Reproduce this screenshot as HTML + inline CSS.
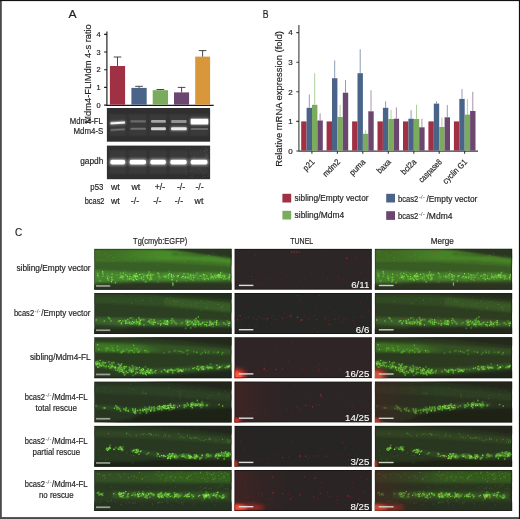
<!DOCTYPE html>
<html><head><meta charset="utf-8"><title>Figure</title>
<style>html,body{margin:0;padding:0;background:#fff}svg{display:block}text{font-family:"Liberation Sans",sans-serif;stroke:#262324;stroke-width:.18px}text.w{stroke:#fff;stroke-width:.1px}text.s{stroke:none}</style>
</head><body>
<svg width="520" height="519" viewBox="0 0 520 519" fill="#262324">
<rect width="520" height="519" fill="#fff"/>
<text x="68.5" y="18.1" font-size="11.8" textLength="8.1" lengthAdjust="spacingAndGlyphs">A</text>
<g stroke="#1a1a1a" stroke-width="1.15" fill="none">
<path d="M106.9 31.6V105.6M106.4 105.39999999999999H213.7M104.1 105.1H106.9M104.1 87.4H106.9M104.1 69.7H106.9M104.1 52.0H106.9M104.1 34.3H106.9"/>
</g>
<text x="100.6" y="107.6" font-size="7.4" text-anchor="end">0</text>
<text x="100.6" y="89.9" font-size="7.4" text-anchor="end">1</text>
<text x="100.6" y="72.2" font-size="7.4" text-anchor="end">2</text>
<text x="100.6" y="54.5" font-size="7.4" text-anchor="end">3</text>
<text x="100.6" y="36.8" font-size="7.4" text-anchor="end">4</text>
<text transform="translate(91 123.7) rotate(-90)" font-size="9.5" textLength="99.5" lengthAdjust="spacingAndGlyphs">Mdm4-FLIMdm 4-s ratio</text>
<rect x="109.9" y="66.0" width="15.2" height="38.7" fill="#a03044"/>
<path d="M117.5 66.0V57.0M113.7 57.0H121.3" stroke="#333" stroke-width="0.9" fill="none"/>
<rect x="131.4" y="87.9" width="15.3" height="16.8" fill="#4a6489"/>
<path d="M139.1 87.9V86.3M135.2 86.3H142.9" stroke="#333" stroke-width="0.9" fill="none"/>
<rect x="152.7" y="90.2" width="15.3" height="14.5" fill="#7bab5c"/>
<path d="M160.3 90.2V89.5M156.5 89.5H164.2" stroke="#333" stroke-width="0.9" fill="none"/>
<rect x="174" y="92.4" width="15.1" height="12.3" fill="#6b466f"/>
<path d="M181.6 92.4V87.4M177.8 87.4H185.4" stroke="#333" stroke-width="0.9" fill="none"/>
<rect x="195.2" y="56.6" width="14.9" height="48.1" fill="#d9973c"/>
<path d="M202.6 56.6V50.6M198.8 50.6H206.4" stroke="#333" stroke-width="0.9" fill="none"/>
<defs><filter id="gb" x="-20%" y="-100%" width="140%" height="300%"><feGaussianBlur stdDeviation="0.75"/></filter><filter id="gg" x="-20%" y="-150%" width="140%" height="400%"><feGaussianBlur stdDeviation="1.3"/></filter></defs>
<rect x="106.9" y="108" width="103.2" height="33.7" fill="#2f2f2f"/>
<rect x="106.9" y="145.6" width="103.2" height="33.6" fill="#2f2f2f"/>
<g fill="#fff">
<rect x="109.5" y="120.9" width="16.5" height="4.1" rx="1.5" opacity="0.33" filter="url(#gg)" transform="rotate(-3.5 117.8 123.0)"/>
<rect x="110.3" y="121.8" width="14.9" height="2.3" rx="1" opacity="0.95" filter="url(#gb)" transform="rotate(-3.5 117.8 123.0)"/>
<rect x="110.3" y="128.7" width="14.9" height="1.8" rx="1" opacity="0.30" filter="url(#gb)" transform="rotate(-3.5 117.8 129.6)"/>
<rect x="130.3" y="120.3" width="15.7" height="2.2" rx="1" opacity="0.25" filter="url(#gb)"/>
<rect x="130.3" y="127.8" width="15.7" height="1.9" rx="1" opacity="0.27" filter="url(#gb)"/>
<rect x="151.0" y="120.1" width="14.9" height="2.6" rx="1" opacity="0.55" filter="url(#gb)"/>
<rect x="151.0" y="127.3" width="14.9" height="2.9" rx="1" opacity="0.78" filter="url(#gb)"/>
<rect x="171.1" y="120.1" width="15.6" height="2.8" rx="1" opacity="0.45" filter="url(#gb)"/>
<rect x="170.3" y="126.4" width="17.2" height="4.7" rx="1.5" opacity="0.30" filter="url(#gg)"/>
<rect x="171.1" y="127.3" width="15.6" height="2.9" rx="1" opacity="0.85" filter="url(#gb)"/>
<rect x="189.9" y="117.9" width="19.2" height="7.4" rx="1.5" opacity="0.35" filter="url(#gg)"/>
<rect x="190.7" y="118.8" width="17.6" height="5.6" rx="1" opacity="1.00" filter="url(#gb)"/>
<rect x="190.7" y="128.1" width="17.6" height="2.0" rx="1" opacity="0.25" filter="url(#gb)"/>
<rect x="109.0" y="158.4" width="17.5" height="7.4" rx="2.5" opacity=".4" filter="url(#gg)"/>
<rect x="110.3" y="159.8" width="14.9" height="4.6" rx="2" filter="url(#gb)"/>
<rect x="109.0" y="150" width="17.5" height="24" opacity=".05" filter="url(#gg)"/>
<rect x="109.0" y="114" width="17.5" height="22" opacity=".05" filter="url(#gg)"/>
<rect x="128.3" y="158.4" width="19.0" height="7.4" rx="2.5" opacity=".4" filter="url(#gg)"/>
<rect x="129.6" y="159.8" width="16.4" height="4.6" rx="2" filter="url(#gb)"/>
<rect x="128.3" y="150" width="19.0" height="24" opacity=".05" filter="url(#gg)"/>
<rect x="128.3" y="114" width="19.0" height="22" opacity=".05" filter="url(#gg)"/>
<rect x="149.0" y="158.4" width="18.2" height="7.4" rx="2.5" opacity=".4" filter="url(#gg)"/>
<rect x="150.3" y="159.8" width="15.6" height="4.6" rx="2" filter="url(#gb)"/>
<rect x="149.0" y="150" width="18.2" height="24" opacity=".05" filter="url(#gg)"/>
<rect x="149.0" y="114" width="18.2" height="22" opacity=".05" filter="url(#gg)"/>
<rect x="169.0" y="158.4" width="19.0" height="7.4" rx="2.5" opacity=".4" filter="url(#gg)"/>
<rect x="170.3" y="159.8" width="16.4" height="4.6" rx="2" filter="url(#gb)"/>
<rect x="169.0" y="150" width="19.0" height="24" opacity=".05" filter="url(#gg)"/>
<rect x="169.0" y="114" width="19.0" height="22" opacity=".05" filter="url(#gg)"/>
<rect x="189.4" y="158.4" width="19.4" height="7.4" rx="2.5" opacity=".4" filter="url(#gg)"/>
<rect x="190.7" y="159.8" width="16.8" height="4.6" rx="2" filter="url(#gb)"/>
<rect x="189.4" y="150" width="19.4" height="24" opacity=".05" filter="url(#gg)"/>
<rect x="189.4" y="114" width="19.4" height="22" opacity=".05" filter="url(#gg)"/>
<path d="M200.6 170.2h.01M204.7 176.7h.01M203.4 176.0h.01M186.7 161.4h.01M208.2 167.3h.01M207.2 150.1h.01M197.0 154.4h.01M198.8 164.9h.01M186.3 153.4h.01M192.6 175.8h.01M204.0 151.6h.01M204.7 150.9h.01M200.5 150.6h.01M186.0 174.4h.01M190.9 153.4h.01M209.1 174.4h.01M192.8 177.3h.01M198.7 168.2h.01M190.8 176.6h.01M202.2 177.4h.01M207.0 156.1h.01M194.5 151.8h.01M189.4 148.6h.01M193.1 165.8h.01M186.1 168.2h.01M193.9 156.4h.01M205.2 161.9h.01M193.4 161.9h.01M202.6 148.3h.01M208.9 147.2h.01M203.6 173.5h.01M186.4 171.7h.01M194.6 165.0h.01M186.2 148.0h.01M190.3 177.1h.01M190.6 170.7h.01M207.8 176.6h.01M194.1 157.9h.01M207.4 154.8h.01M205.5 154.5h.01M208.6 155.6h.01M205.2 156.5h.01M205.4 150.4h.01M207.7 156.2h.01M206.5 156.2h.01M207.5 150.1h.01M206.4 148.8h.01M205.4 148.5h.01M208.1 157.0h.01M205.7 147.5h.01M209.4 152.3h.01M206.8 149.4h.01" stroke="#fff" stroke-width=".8" stroke-linecap="round" opacity=".15" fill="none"/>
</g>
<text x="102.9" y="123.9" font-size="8.6" text-anchor="end" textLength="33.2" lengthAdjust="spacingAndGlyphs">Mdm4-FL</text>
<text x="103.4" y="134.0" font-size="8.6" text-anchor="end" textLength="29.9" lengthAdjust="spacingAndGlyphs">Mdm4-S</text>
<text x="103.4" y="164.3" font-size="8.6" text-anchor="end" textLength="23.2" lengthAdjust="spacingAndGlyphs">gapdh</text>
<text x="103.3" y="189.5" font-size="8.6" text-anchor="end" textLength="13" lengthAdjust="spacingAndGlyphs">p53</text>
<text x="104.5" y="203.6" font-size="8.6" text-anchor="end" textLength="19.8" lengthAdjust="spacingAndGlyphs">bcas2</text>
<text x="111" y="189.5" font-size="8.6" textLength="8.8" lengthAdjust="spacingAndGlyphs">wt</text>
<text x="131.4" y="189.5" font-size="8.6" textLength="8.8" lengthAdjust="spacingAndGlyphs">wt</text>
<text x="154.8" y="189.5" font-size="8.6" textLength="10.4" lengthAdjust="spacingAndGlyphs">+/-</text>
<text x="176.9" y="189.5" font-size="8.6" textLength="8.3" lengthAdjust="spacingAndGlyphs">-/-</text>
<text x="195.4" y="189.5" font-size="8.6" textLength="8.3" lengthAdjust="spacingAndGlyphs">-/-</text>
<text x="111" y="203.6" font-size="8.6" textLength="8.8" lengthAdjust="spacingAndGlyphs">wt</text>
<text x="130.8" y="203.6" font-size="8.6" textLength="8.3" lengthAdjust="spacingAndGlyphs">-/-</text>
<text x="153.2" y="203.6" font-size="8.6" textLength="8.3" lengthAdjust="spacingAndGlyphs">-/-</text>
<text x="174.8" y="203.6" font-size="8.6" textLength="8.3" lengthAdjust="spacingAndGlyphs">-/-</text>
<text x="194.6" y="203.6" font-size="8.6" textLength="8.8" lengthAdjust="spacingAndGlyphs">wt</text>
<text x="262.7" y="17.8" font-size="11" textLength="5.8" lengthAdjust="spacingAndGlyphs">B</text>
<path d="M298.9 25V151.6M298.3 151.1H478M296.3 151.0H298.9M296.3 121.4H298.9M296.3 91.8H298.9M296.3 62.2H298.9M296.3 32.6H298.9M311.9 151.0V153.8M337.4 151.0V153.8M362.8 151.0V153.8M388.3 151.0V153.8M413.8 151.0V153.8M439.2 151.0V153.8M464.6 151.0V153.8" stroke="#3a3a3a" stroke-width="1.1" fill="none"/>
<text x="292.8" y="153.8" font-size="8" text-anchor="end">0</text>
<text x="292.8" y="124.2" font-size="8" text-anchor="end">1</text>
<text x="292.8" y="94.6" font-size="8" text-anchor="end">2</text>
<text x="292.8" y="65.0" font-size="8" text-anchor="end">3</text>
<text x="292.8" y="35.4" font-size="8" text-anchor="end">4</text>
<text transform="translate(281.8 166.8) rotate(-90)" font-size="9.5" textLength="135.8" lengthAdjust="spacingAndGlyphs">Relative mRNA expression (fold)</text>
<rect x="301.2" y="121.4" width="5.4" height="29.2" fill="#a03044"/>
<rect x="306.6" y="107.8" width="5.4" height="42.8" fill="#4a6489"/>
<path d="M309.3 107.8V94.5" stroke="#7f93b0" stroke-width="0.9"/>
<rect x="312.0" y="104.8" width="5.4" height="45.8" fill="#7bab5c"/>
<path d="M314.7 104.8V73.2" stroke="#a5c98f" stroke-width="0.9"/>
<rect x="317.4" y="120.5" width="5.4" height="30.1" fill="#6b466f"/>
<path d="M320.1 120.5V113.4" stroke="#a283a5" stroke-width="0.9"/>
<text transform="translate(315.1 162.6) rotate(-45)" font-size="8.5" text-anchor="end" textLength="12.5" lengthAdjust="spacingAndGlyphs">p21</text>
<rect x="326.6" y="121.4" width="5.4" height="29.2" fill="#a03044"/>
<rect x="332.0" y="78.2" width="5.4" height="72.4" fill="#4a6489"/>
<path d="M334.7 78.2V60.4" stroke="#7f93b0" stroke-width="0.9"/>
<rect x="337.4" y="117.0" width="5.4" height="33.6" fill="#7bab5c"/>
<path d="M340.1 117.0V104.8" stroke="#a5c98f" stroke-width="0.9"/>
<rect x="342.8" y="92.7" width="5.4" height="57.9" fill="#6b466f"/>
<path d="M345.5 92.7V80.0" stroke="#a283a5" stroke-width="0.9"/>
<text transform="translate(340.6 162.6) rotate(-45)" font-size="8.5" text-anchor="end" textLength="20.8" lengthAdjust="spacingAndGlyphs">mdm2</text>
<rect x="352.1" y="121.4" width="5.4" height="29.2" fill="#a03044"/>
<rect x="357.5" y="73.2" width="5.4" height="77.4" fill="#4a6489"/>
<path d="M360.2 73.2V49.2" stroke="#7f93b0" stroke-width="0.9"/>
<rect x="362.9" y="133.8" width="5.4" height="16.8" fill="#7bab5c"/>
<path d="M365.6 133.8V130.3" stroke="#a5c98f" stroke-width="0.9"/>
<rect x="368.3" y="111.3" width="5.4" height="39.3" fill="#6b466f"/>
<path d="M371.0 111.3V90.3" stroke="#a283a5" stroke-width="0.9"/>
<text transform="translate(366.0 162.6) rotate(-45)" font-size="8.5" text-anchor="end" textLength="18.8" lengthAdjust="spacingAndGlyphs">puma</text>
<rect x="377.5" y="121.4" width="5.4" height="29.2" fill="#a03044"/>
<rect x="382.9" y="107.8" width="5.4" height="42.8" fill="#4a6489"/>
<path d="M385.6 107.8V101.3" stroke="#7f93b0" stroke-width="0.9"/>
<rect x="388.3" y="119.0" width="5.4" height="31.6" fill="#7bab5c"/>
<path d="M391.0 119.0V109.9" stroke="#a5c98f" stroke-width="0.9"/>
<rect x="393.7" y="118.7" width="5.4" height="31.9" fill="#6b466f"/>
<path d="M396.4 118.7V107.5" stroke="#a283a5" stroke-width="0.9"/>
<text transform="translate(391.5 162.6) rotate(-45)" font-size="8.5" text-anchor="end" textLength="16.3" lengthAdjust="spacingAndGlyphs">baxa</text>
<rect x="403.0" y="121.4" width="5.4" height="29.2" fill="#a03044"/>
<rect x="408.4" y="118.7" width="5.4" height="31.9" fill="#4a6489"/>
<path d="M411.1 118.7V110.2" stroke="#7f93b0" stroke-width="0.9"/>
<rect x="413.8" y="119.0" width="5.4" height="31.6" fill="#7bab5c"/>
<path d="M416.5 119.0V104.8" stroke="#a5c98f" stroke-width="0.9"/>
<rect x="419.2" y="127.3" width="5.4" height="23.3" fill="#6b466f"/>
<path d="M421.9 127.3V118.7" stroke="#a283a5" stroke-width="0.9"/>
<text transform="translate(416.9 162.6) rotate(-45)" font-size="8.5" text-anchor="end" textLength="17.9" lengthAdjust="spacingAndGlyphs">bcl2a</text>
<rect x="428.4" y="121.4" width="5.4" height="29.2" fill="#a03044"/>
<rect x="433.8" y="103.6" width="5.4" height="47.0" fill="#4a6489"/>
<path d="M436.5 103.6V101.3" stroke="#7f93b0" stroke-width="0.9"/>
<rect x="439.2" y="127.0" width="5.4" height="23.6" fill="#7bab5c"/>
<path d="M441.9 127.0V117.6" stroke="#a5c98f" stroke-width="0.9"/>
<rect x="444.6" y="117.3" width="5.4" height="33.3" fill="#6b466f"/>
<path d="M447.3 117.3V105.1" stroke="#a283a5" stroke-width="0.9"/>
<text transform="translate(442.4 162.6) rotate(-45)" font-size="8.5" text-anchor="end" textLength="28.9" lengthAdjust="spacingAndGlyphs">caspase8</text>
<rect x="453.9" y="121.4" width="5.4" height="29.2" fill="#a03044"/>
<rect x="459.3" y="98.9" width="5.4" height="51.7" fill="#4a6489"/>
<path d="M462.0 98.9V89.1" stroke="#7f93b0" stroke-width="0.9"/>
<rect x="464.7" y="114.6" width="5.4" height="36.0" fill="#7bab5c"/>
<path d="M467.4 114.6V98.9" stroke="#a5c98f" stroke-width="0.9"/>
<rect x="470.1" y="111.0" width="5.4" height="39.6" fill="#6b466f"/>
<path d="M472.8 111.0V91.8" stroke="#a283a5" stroke-width="0.9"/>
<text transform="translate(467.8 162.6) rotate(-45)" font-size="8.5" text-anchor="end" textLength="30.8" lengthAdjust="spacingAndGlyphs">cyclin G1</text>
<rect x="282.4" y="193.8" width="8.8" height="8.7" fill="#a03044"/>
<rect x="282.4" y="210.8" width="8.8" height="8.7" fill="#7bab5c"/>
<rect x="386.2" y="193.8" width="8.8" height="8.7" fill="#4a6489"/>
<rect x="386.2" y="211.2" width="8.8" height="8.7" fill="#6b466f"/>
<text x="294.6" y="200.6" font-size="8.6" textLength="73.9" lengthAdjust="spacingAndGlyphs">sibling/Empty vector</text>
<text x="294.6" y="217.6" font-size="8.6" textLength="49.6" lengthAdjust="spacingAndGlyphs">sibling/Mdm4</text>
<text x="398" y="202.1" font-size="8.6" textLength="20.2" lengthAdjust="spacingAndGlyphs">bcas2</text>
<text x="418.7" y="198.9" font-size="4.5" textLength="6.2" lengthAdjust="spacingAndGlyphs" fill="#555" class="s">-/-</text>
<text x="426.5" y="202.1" font-size="8.6" textLength="50.9" lengthAdjust="spacingAndGlyphs">/Empty vector</text>
<text x="398" y="218.9" font-size="8.6" textLength="20.2" lengthAdjust="spacingAndGlyphs">bcas2</text>
<text x="418.7" y="215.70000000000002" font-size="4.5" textLength="6.2" lengthAdjust="spacingAndGlyphs" fill="#555" class="s">-/-</text>
<text x="426.5" y="218.9" font-size="8.6" textLength="25.9" lengthAdjust="spacingAndGlyphs">/Mdm4</text>
<text x="15" y="235.8" font-size="11.5" textLength="7.2" lengthAdjust="spacingAndGlyphs">C</text>
<text x="133.1" y="243.8" font-size="8.6" textLength="54.2" lengthAdjust="spacingAndGlyphs">Tg(cmyb:EGFP)</text>
<text x="290.2" y="244" font-size="8.6" textLength="23.1" lengthAdjust="spacingAndGlyphs">TUNEL</text>
<text x="430.8" y="244" font-size="8.6" textLength="23" lengthAdjust="spacingAndGlyphs">Merge</text>
<text x="16.4" y="270.5" font-size="8.6" textLength="74.2" lengthAdjust="spacingAndGlyphs">sibling/Empty vector</text>
<text x="13.9" y="315.8" font-size="8.6" textLength="20.2" lengthAdjust="spacingAndGlyphs">bcas2</text>
<text x="34.6" y="312.6" font-size="4.5" textLength="6.2" lengthAdjust="spacingAndGlyphs" fill="#555" class="s">-/-</text>
<text x="41.2" y="315.8" font-size="8.6" textLength="49.2" lengthAdjust="spacingAndGlyphs">/Empty vector</text>
<text x="29.9" y="359.5" font-size="8.6" textLength="60.7" lengthAdjust="spacingAndGlyphs">sibling/Mdm4-FL</text>
<text x="24.7" y="400" font-size="8.6" textLength="20.2" lengthAdjust="spacingAndGlyphs">bcas2</text>
<text x="45.4" y="396.8" font-size="4.5" textLength="6.2" lengthAdjust="spacingAndGlyphs" fill="#555" class="s">-/-</text>
<text x="52.0" y="400" font-size="8.6" textLength="35.7" lengthAdjust="spacingAndGlyphs">/Mdm4-FL</text>
<text x="56.3" y="410.6" font-size="8.6" text-anchor="middle" textLength="41.5" lengthAdjust="spacingAndGlyphs">total rescue</text>
<text x="24.7" y="444" font-size="8.6" textLength="20.2" lengthAdjust="spacingAndGlyphs">bcas2</text>
<text x="45.4" y="440.8" font-size="4.5" textLength="6.2" lengthAdjust="spacingAndGlyphs" fill="#555" class="s">-/-</text>
<text x="52.0" y="444" font-size="8.6" textLength="35.7" lengthAdjust="spacingAndGlyphs">/Mdm4-FL</text>
<text x="56.3" y="454.6" font-size="8.6" text-anchor="middle" textLength="47.6" lengthAdjust="spacingAndGlyphs">partial rescue</text>
<text x="24.7" y="487.4" font-size="8.6" textLength="20.2" lengthAdjust="spacingAndGlyphs">bcas2</text>
<text x="45.4" y="484.2" font-size="4.5" textLength="6.2" lengthAdjust="spacingAndGlyphs" fill="#555" class="s">-/-</text>
<text x="52.0" y="487.4" font-size="8.6" textLength="35.7" lengthAdjust="spacingAndGlyphs">/Mdm4-FL</text>
<text x="56.3" y="498.0" font-size="8.6" text-anchor="middle" textLength="34.7" lengthAdjust="spacingAndGlyphs">no rescue</text>
<defs>
<filter id="b1" x="-10%" y="-30%" width="120%" height="160%"><feGaussianBlur stdDeviation="1.1"/></filter>
<filter id="b2" x="-20%" y="-50%" width="140%" height="200%"><feGaussianBlur stdDeviation="2"/></filter>
<filter id="b0" x="-5%" y="-10%" width="110%" height="120%"><feGaussianBlur stdDeviation="0.65"/></filter>
<linearGradient id="hg1"><stop offset="0" stop-color="#498d2b" stop-opacity="0"/><stop offset=".4" stop-color="#498d2b"/><stop offset="1" stop-color="#498d2b"/></linearGradient>
<linearGradient id="hg6"><stop offset="0" stop-color="#36641f" stop-opacity="0"/><stop offset=".4" stop-color="#36641f"/><stop offset="1" stop-color="#36641f"/></linearGradient>
<linearGradient id="hg3"><stop offset="0" stop-color="#3f7a26"/><stop offset=".6" stop-color="#3f7a26"/><stop offset="1" stop-color="#3f7a26" stop-opacity="0"/></linearGradient>
<linearGradient id="rg"><stop offset="0" stop-color="#472424" stop-opacity=".75"/><stop offset="1" stop-color="#352424" stop-opacity="0"/></linearGradient>
<clipPath id="pc"><rect width="137.4" height="41.0"/></clipPath>
<g id="G0" clip-path="url(#pc)">
<rect width="137.4" height="41.0" fill="#386026"/>
<path d="M0 1L70 1L137.6 6L137.6 17L70 13.5L0 12.5Z" fill="#3f6e28" filter="url(#b1)"/>
<path d="M15 1L100 2L137.6 8L137.6 15L100 12L15 11Z" fill="url(#hg1)" opacity="0.9" filter="url(#b1)"/>
<path d="M66 -1L139 -1L139 10L100 4.5Z" fill="#293820" filter="url(#b1)"/>
<path d="M78 5L112 7.5" fill="none" stroke="#293820" stroke-width="1.2" opacity="0.6" filter="url(#b1)"/>
<path d="M0 11.7L60 12.3L137.6 16.5" fill="none" stroke="#4f8934" stroke-width="1.2" opacity="0.55" filter="url(#b1)"/>
<path d="M0 21L6 21.3L12 21.7L18 22L24 22.3L30 22.6L36 23L42 23.2L48 23.3L54 23.3L60 23.4L66 23.5L72 23.5L78 23.6L84 23.6L90 23.7L96 23.7L102 23.7L108 23.6L114 23.6L120 23.6L126 23.7L132 24.5L137.6 25.3L137.6 30.3L132 31.1L126 32.1L120 32.3L114 32.4L108 32.4L102 32.5L96 32.6L90 32.7L84 32.7L78 32.7L72 32.7L66 32.8L60 32.8L54 32.8L48 32.8L42 32.8L36 32.9L30 33.1L24 33.3L18 33.5L12 33.6L6 33.8L0 34Z" fill="#498431" opacity="0.95" filter="url(#b1)"/>
<path d="M-2 36L40 34L139 33.8L139 43L-2 43Z" fill="#2a3523" filter="url(#b1)"/>
<g fill="none" stroke-linecap="round" filter="url(#b0)">
<path d="M62.3 9.7h.01M80.6 6.3h.01M86.3 10.2h.01M110.7 11.3h.01M89.6 8.7h.01M9.1 6.5h.01M5.1 1.1h.01M87.8 10.3h.01M96.9 8.9h.01M115.8 7.6h.01M124.3 13.8h.01M86.3 7.9h.01M12.8 10.8h.01M34.4 5.4h.01M109.0 7.0h.01M100.2 8.1h.01M29.6 8.9h.01M135.1 8.6h.01M105.7 9.3h.01M80.0 8.8h.01M51.4 9.8h.01M118.4 9.8h.01M34.8 6.1h.01M82.8 1.3h.01M33.3 6.2h.01M10.3 1.0h.01M28.6 4.4h.01M61.4 8.1h.01M133.9 10.4h.01M3.9 1.5h.01M136.4 12.4h.01M100.9 11.0h.01M118.0 8.6h.01M83.5 6.1h.01M99.7 8.8h.01M5.0 4.1h.01M35.7 5.2h.01M53.1 9.6h.01M129.7 6.8h.01M62.1 7.5h.01M6.6 6.4h.01M42.9 8.1h.01M33.2 6.7h.01M130.9 8.5h.01M25.3 6.6h.01M95.5 5.3h.01M98.9 6.0h.01M63.8 3.5h.01M117.0 13.1h.01M105.1 11.1h.01M110.6 10.5h.01M107.8 8.2h.01M12.7 2.6h.01M76.9 4.9h.01M132.2 9.9h.01M69.2 6.2h.01M132.4 7.5h.01M67.5 9.9h.01M74.0 13.4h.01M65.1 5.2h.01M18.5 9.9h.01M27.3 5.4h.01M17.6 6.2h.01M60.2 8.7h.01M72.7 8.3h.01M123.3 8.4h.01M18.1 3.7h.01M69.1 7.4h.01M6.1 7.1h.01M63.6 5.5h.01M59.3 9.6h.01M25.6 6.2h.01M23.4 3.5h.01M104.7 9.4h.01M64.5 5.9h.01M87.5 9.1h.01M46.8 13.4h.01M35.8 8.3h.01M22.7 7.9h.01M58.0 9.7h.01" stroke="#447f2a" stroke-width="1.4" opacity="0.3"/>
<path d="M63.0 16.1h.01M40.2 6.9h.01M16.8 6.8h.01M109.9 12.1h.01M40.8 11.8h.01M18.8 8.7h.01M5.8 2.6h.01M119.0 4.6h.01M114.6 6.6h.01M68.4 7.2h.01M90.4 12.5h.01M45.3 7.6h.01M19.5 9.1h.01M67.9 9.8h.01M134.1 12.4h.01M86.3 5.4h.01M65.4 10.1h.01M52.1 10.4h.01M87.9 9.7h.01M133.4 17.5h.01M71.0 9.4h.01M40.3 4.4h.01M65.6 8.3h.01M85.0 5.8h.01M32.5 10.3h.01M19.1 12.1h.01M36.2 8.0h.01M3.4 3.5h.01M16.6 0.6h.01M78.1 8.4h.01M13.9 7.9h.01M86.3 5.5h.01M110.1 8.0h.01M101.9 10.5h.01M120.2 8.1h.01M73.2 11.3h.01M4.1 6.1h.01M14.3 6.8h.01M75.5 11.0h.01M11.3 5.4h.01" stroke="#58a832" stroke-width="1.2" opacity="0.4"/>
<path d="M50.5 26.6h.01M41.1 25.9h.01M98.6 27.0h.01M103.1 26.0h.01M125.1 28.5h.01M125.2 29.6h.01M126.0 27.5h.01M124.2 27.7h.01M110.0 25.1h.01M109.1 27.3h.01M70.8 29.9h.01M70.7 26.8h.01M73.8 26.2h.01M72.1 24.6h.01M31.3 29.5h.01M33.9 30.3h.01M33.7 24.6h.01M112.4 27.7h.01M113.8 24.7h.01M29.8 26.1h.01M29.0 28.0h.01M97.5 30.1h.01M97.9 28.9h.01M48.8 30.8h.01M134.7 27.2h.01M86.0 24.8h.01M82.8 28.0h.01M130.0 28.0h.01M129.8 26.3h.01M103.3 26.1h.01M31.1 23.4h.01M17.8 30.0h.01M111.5 26.6h.01M65.0 30.2h.01M95.0 27.2h.01M120.8 25.4h.01M122.5 30.6h.01M78.6 28.6h.01M74.6 28.2h.01M75.3 26.5h.01M13.0 25.3h.01M13.1 27.6h.01M20.2 27.0h.01M100.5 28.3h.01M63.8 26.8h.01M23.2 28.4h.01M118.2 29.0h.01M40.0 29.6h.01M41.1 27.4h.01M41.2 27.2h.01M130.4 27.3h.01M14.1 26.6h.01M56.7 26.9h.01M120.2 28.3h.01M43.1 29.4h.01M51.1 28.0h.01M49.6 29.1h.01M50.9 30.5h.01M54.2 28.0h.01M52.6 27.4h.01M51.8 32.9h.01M135.0 27.6h.01M17.5 29.3h.01M75.0 22.9h.01M77.1 28.5h.01M38.1 26.0h.01M38.3 29.4h.01M37.6 28.7h.01M90.0 26.5h.01M91.0 25.7h.01M90.9 27.6h.01M110.4 31.7h.01M28.7 29.0h.01M31.3 23.6h.01M52.2 32.6h.01M1.7 29.5h.01M108.0 27.3h.01M11.0 28.4h.01M109.0 27.5h.01M109.4 28.5h.01M108.9 25.3h.01M29.4 27.0h.01M47.9 29.2h.01M39.5 25.3h.01M91.7 31.7h.01M16.1 26.7h.01M18.7 25.8h.01M22.2 31.6h.01M20.8 28.3h.01M44.1 29.6h.01M44.8 28.0h.01M41.7 30.6h.01M39.7 27.7h.01M124.4 30.3h.01M91.3 28.9h.01M91.7 24.9h.01M63.9 27.2h.01M75.7 27.7h.01M104.6 30.6h.01M40.4 28.4h.01M40.4 29.1h.01M40.2 30.4h.01M125.6 27.2h.01M126.6 27.3h.01M77.7 30.3h.01M77.5 30.7h.01M70.5 27.8h.01M77.1 29.2h.01M127.5 23.8h.01M127.1 28.2h.01M57.0 27.2h.01M27.1 29.9h.01M69.3 26.9h.01M64.0 33.0h.01M55.3 26.2h.01M55.2 26.7h.01M68.6 26.9h.01M42.9 26.9h.01M40.9 28.3h.01M129.9 26.2h.01M109.6 28.6h.01M129.1 29.9h.01M121.4 28.3h.01M100.7 26.6h.01M117.1 27.9h.01M69.9 25.0h.01M97.5 28.1h.01M75.9 27.2h.01M129.5 29.4h.01" stroke="#4a8f2c" stroke-width="2.3" opacity="0.6"/>
<path d="M39.0 28.8h.01M98.9 31.3h.01M33.3 30.9h.01M32.0 26.8h.01M126.1 25.7h.01M125.6 27.7h.01M135.0 30.8h.01M34.6 29.9h.01M33.7 29.2h.01M39.1 27.5h.01M109.4 28.6h.01M71.7 27.0h.01M73.4 27.6h.01M72.0 28.8h.01M33.2 27.7h.01M33.3 29.5h.01M29.2 30.4h.01M89.6 29.4h.01M28.0 27.4h.01M57.2 27.8h.01M83.5 28.3h.01M83.1 27.5h.01M36.7 29.7h.01M6.1 32.3h.01M116.9 26.2h.01M102.9 24.4h.01M103.8 29.4h.01M91.2 28.9h.01M122.5 28.7h.01M121.6 29.1h.01M97.6 26.8h.01M96.7 26.5h.01M122.4 26.8h.01M123.7 27.7h.01M26.3 28.5h.01M26.2 24.6h.01M107.1 27.2h.01M108.2 29.9h.01M107.0 27.1h.01M33.7 29.8h.01M83.8 27.5h.01M8.9 25.6h.01M37.4 30.7h.01M40.0 27.3h.01M13.2 26.9h.01M13.4 27.4h.01M95.9 30.1h.01M97.0 28.8h.01M64.5 28.1h.01M78.0 31.1h.01M42.0 27.5h.01M22.6 26.4h.01M8.2 27.8h.01M56.1 30.1h.01M57.8 26.2h.01M17.3 31.0h.01M15.4 28.4h.01M77.2 30.8h.01M4.2 28.0h.01M110.9 29.7h.01M110.3 26.9h.01M25.0 29.2h.01M25.9 26.1h.01M121.3 26.6h.01M119.0 28.2h.01M5.4 31.7h.01M116.9 26.1h.01M27.7 27.5h.01M49.4 27.1h.01M49.8 26.2h.01M40.8 27.3h.01M40.0 28.0h.01M116.2 29.7h.01M116.6 27.5h.01M64.6 25.3h.01M4.3 28.2h.01M18.6 30.7h.01M43.5 27.9h.01M42.6 26.7h.01M43.6 30.3h.01M42.2 25.2h.01M45.5 29.5h.01M43.6 30.7h.01M125.2 26.3h.01M65.0 27.3h.01M28.4 29.0h.01M35.6 25.7h.01M116.8 25.3h.01M71.6 27.8h.01M57.5 30.0h.01M124.8 28.1h.01M94.3 28.1h.01M56.2 29.5h.01M56.4 26.6h.01M56.4 30.9h.01M56.7 25.2h.01M56.8 26.6h.01M51.2 33.1h.01M48.2 25.3h.01M2.9 24.7h.01M28.2 29.9h.01M132.8 29.7h.01M68.8 27.9h.01M57.5 29.7h.01M120.5 27.3h.01M40.1 27.8h.01M41.6 29.7h.01M42.7 30.6h.01M109.1 29.7h.01M129.2 26.8h.01M4.1 25.1h.01M119.4 30.2h.01M118.9 28.4h.01M131.4 30.0h.01M65.1 28.1h.01M65.9 28.7h.01M129.6 28.1h.01M130.9 26.8h.01M8.7 27.5h.01M96.7 27.4h.01M120.9 26.3h.01M101.8 26.5h.01M100.4 28.5h.01M116.5 29.2h.01M96.9 30.3h.01M95.9 28.6h.01M54.4 26.9h.01M45.5 26.2h.01M122.1 27.2h.01" stroke="#58ad32" stroke-width="1.9" opacity="0.85"/>
<path d="M17.8 28.2h.01M17.7 31.2h.01M125.6 26.4h.01M127.2 28.7h.01M126.2 26.2h.01M125.6 28.9h.01M124.8 26.3h.01M74.2 27.1h.01M74.2 25.7h.01M70.8 28.4h.01M31.4 25.9h.01M135.6 26.9h.01M114.3 30.2h.01M27.9 28.6h.01M99.1 26.6h.01M99.4 28.7h.01M58.9 26.1h.01M82.5 32.2h.01M83.2 27.4h.01M128.3 27.0h.01M8.5 24.4h.01M123.5 27.4h.01M121.5 28.7h.01M122.9 27.1h.01M93.7 29.2h.01M93.5 28.3h.01M79.2 26.8h.01M14.0 31.3h.01M63.7 24.5h.01M117.9 27.5h.01M41.3 27.0h.01M40.5 26.4h.01M41.0 29.2h.01M13.4 29.8h.01M77.7 28.6h.01M74.4 29.4h.01M52.0 26.9h.01M54.2 25.4h.01M37.6 29.4h.01M91.3 28.7h.01M89.0 27.6h.01M29.6 27.5h.01M120.2 27.3h.01M110.4 26.1h.01M27.8 27.3h.01M49.4 31.0h.01M39.6 27.1h.01M135.5 25.9h.01M135.0 28.5h.01M35.3 30.6h.01M17.3 28.7h.01M56.1 27.2h.01M57.0 30.1h.01M21.2 34.1h.01M39.5 31.6h.01M79.6 28.0h.01M125.2 26.2h.01M63.7 24.2h.01M53.6 29.6h.01M53.0 28.2h.01M35.8 29.6h.01M124.3 26.7h.01M124.3 28.2h.01M105.8 27.4h.01M40.4 27.4h.01M78.1 30.9h.01M56.3 29.3h.01M49.3 28.4h.01M127.2 28.7h.01M27.1 27.3h.01M28.3 28.8h.01M93.8 25.4h.01M43.1 27.2h.01M43.0 27.3h.01M118.8 28.9h.01M117.1 28.9h.01M130.1 27.6h.01M8.4 22.9h.01M55.4 31.0h.01M54.9 23.4h.01M47.3 30.1h.01M130.2 28.4h.01M129.6 30.2h.01" stroke="#6fd03c" stroke-width="1.5"/>
<path d="M42.2 30.8h.01M125.8 27.4h.01M53.2 26.5h.01M33.2 27.6h.01M35.7 27.7h.01M112.8 29.6h.01M84.3 26.9h.01M77.0 27.8h.01M123.7 26.2h.01M17.8 25.4h.01M112.7 27.3h.01M13.0 29.1h.01M39.7 27.4h.01M41.9 24.7h.01M42.8 27.7h.01M75.3 24.9h.01M91.1 28.2h.01M89.7 25.0h.01M135.1 28.4h.01M134.6 29.1h.01M109.1 25.9h.01M29.0 24.5h.01M17.2 33.0h.01M45.6 25.7h.01M39.0 31.0h.01M87.5 28.9h.01M126.4 24.2h.01M110.5 30.8h.01M55.8 26.2h.01M3.4 26.7h.01M26.7 28.7h.01M70.5 27.4h.01M41.3 28.0h.01M88.3 27.8h.01M96.1 26.2h.01M47.4 28.4h.01M77.1 25.7h.01M77.3 26.5h.01M124.2 25.9h.01" stroke="#92f252" stroke-width="1.2"/>
<path d="M78.6 34.6h.01M78.7 36.4h.01" stroke="#8bf04e" stroke-width="1.5"/>
</g>
<path d="M0 .4H137.4M136.9 0V41.0M.3 0V41.0M0 40.6H137.4" stroke="#10160c" stroke-width=".9" opacity=".55" fill="none"/>
</g>
<g id="G1" clip-path="url(#pc)">
<rect width="137.4" height="41.0" fill="#2c3f22"/>
<path d="M0 3L60 3L137.6 9L137.6 20L60 13L0 10Z" fill="#334f27" opacity="0.9" filter="url(#b1)"/>
<path d="M70 5L137.6 10.5L137.6 19L70 12Z" fill="#3d612b" opacity="0.7" filter="url(#b1)"/>
<path d="M40 -1L139 -1L139 7L90 2.5Z" fill="#242d1e" filter="url(#b1)"/>
<path d="M0 24L6 24.2L12 24.3L18 24.5L24 24.6L30 24.8L36 24.9L42 25L48 25.1L54 25.2L60 25.3L66 25.4L72 25.5L78 25.6L84 25.8L90 26L96 26.1L102 26.4L108 26.7L114 27L120 27.3L126 27.6L132 27.9L137.6 28.2L137.6 33.8L132 33.9L126 34L120 34L114 34.1L108 34.2L102 34.2L96 34.2L90 34L84 33.9L78 33.8L72 33.6L66 33.5L60 33.5L54 33.4L48 33.4L42 33.3L36 33.3L30 33.2L24 32.8L18 32.3L12 31.9L6 31.4L0 31Z" fill="#3f6830" opacity="0.85" filter="url(#b1)"/>
<path d="M-2 36L30 35.5L36 34L139 34.5L139 43L-2 43Z" fill="#232a1e" filter="url(#b1)"/>
<g fill="none" stroke-linecap="round" filter="url(#b0)">
<path d="M130.8 22.0h.01M96.9 12.7h.01M105.9 9.0h.01M95.6 9.9h.01M106.8 17.2h.01M91.4 12.7h.01M126.3 13.9h.01M125.2 10.7h.01M81.7 11.2h.01M92.2 16.8h.01M126.9 17.3h.01M55.3 8.2h.01M48.3 6.1h.01M26.9 2.8h.01M113.2 10.9h.01M88.2 10.5h.01M128.7 8.9h.01M87.0 11.2h.01M116.0 12.9h.01M102.7 13.5h.01M34.7 6.9h.01M88.5 10.5h.01M134.5 13.8h.01M122.0 9.6h.01M111.8 15.2h.01M104.2 10.1h.01M132.4 12.2h.01M118.2 8.2h.01M112.8 13.1h.01M128.1 13.8h.01M128.6 16.7h.01M44.5 4.5h.01M41.4 6.5h.01M46.0 8.0h.01M57.2 7.8h.01M120.0 10.5h.01M70.7 9.2h.01M112.1 7.4h.01M80.0 9.3h.01M110.5 10.3h.01M12.1 8.5h.01M106.5 7.8h.01M80.3 9.4h.01M76.5 4.0h.01M107.0 7.7h.01M82.6 8.4h.01M97.7 11.0h.01M36.4 2.9h.01M128.5 14.7h.01M65.6 9.9h.01M95.5 11.6h.01M7.8 11.1h.01M126.2 14.9h.01M56.2 5.3h.01M123.7 15.3h.01M125.6 12.6h.01" stroke="#447f2a" stroke-width="1.4" opacity="0.3"/>
<path d="M127.3 14.4h.01M115.7 8.9h.01M101.8 10.3h.01M37.4 10.2h.01M48.7 7.4h.01M100.6 12.5h.01M82.8 8.5h.01M73.4 5.6h.01M87.8 13.5h.01M129.5 12.6h.01M19.8 8.3h.01M112.5 14.7h.01M79.7 7.7h.01M123.6 11.4h.01" stroke="#58a832" stroke-width="1.2" opacity="0.4"/>
<path d="M118.6 30.9h.01M110.2 29.3h.01M71.6 30.8h.01M32.8 30.2h.01M93.9 30.2h.01M69.8 31.1h.01M44.8 32.1h.01M55.9 28.1h.01M56.1 30.5h.01M59.2 31.5h.01M101.1 33.4h.01M100.7 29.2h.01M101.3 27.5h.01M101.3 29.1h.01M96.5 34.9h.01M91.5 35.3h.01M53.6 28.8h.01M39.0 26.8h.01M73.4 28.7h.01M72.2 30.0h.01M39.3 30.0h.01M61.0 28.5h.01M30.8 27.3h.01M34.5 28.9h.01M33.8 27.9h.01M35.2 30.4h.01M34.5 28.5h.01M37.8 24.8h.01M133.9 29.2h.01M134.4 30.6h.01M70.7 28.0h.01M106.6 32.5h.01M86.5 30.6h.01M77.9 29.5h.01M24.8 28.7h.01M59.0 29.0h.01M27.3 29.7h.01M63.6 28.6h.01M102.5 28.9h.01M134.1 31.3h.01M70.3 27.4h.01M68.0 29.9h.01M56.3 26.8h.01M56.3 30.0h.01M46.0 27.2h.01M48.5 26.5h.01M115.8 31.7h.01M115.6 28.0h.01M111.4 32.3h.01M112.3 32.4h.01M58.0 29.5h.01M58.6 28.1h.01M58.4 29.9h.01M55.5 26.1h.01M81.0 29.1h.01M80.6 30.2h.01M82.2 30.3h.01M44.5 29.0h.01M44.4 29.5h.01M94.3 30.6h.01M119.0 33.4h.01M116.6 32.5h.01M41.9 30.1h.01M40.0 30.6h.01M65.0 30.4h.01M42.7 28.3h.01M124.7 31.6h.01M123.9 31.3h.01M122.0 31.4h.01M129.4 30.4h.01M132.9 27.8h.01M133.9 29.6h.01M58.6 31.5h.01" stroke="#4a8f2c" stroke-width="2.3" opacity="0.6"/>
<path d="M72.2 28.7h.01M72.5 30.2h.01M71.4 30.7h.01M31.8 30.1h.01M93.8 28.2h.01M95.0 28.9h.01M70.2 27.9h.01M14.3 24.8h.01M45.1 31.4h.01M44.6 24.8h.01M104.9 30.5h.01M101.8 25.5h.01M100.9 27.7h.01M103.9 29.8h.01M59.9 28.3h.01M100.9 30.1h.01M100.0 27.3h.01M101.6 29.6h.01M103.4 27.6h.01M103.1 28.7h.01M80.1 28.7h.01M46.3 31.1h.01M45.3 26.5h.01M101.1 29.1h.01M97.5 29.2h.01M97.8 29.9h.01M72.7 27.9h.01M71.8 30.2h.01M73.2 28.0h.01M70.2 28.3h.01M69.7 30.1h.01M122.5 29.8h.01M36.7 29.1h.01M10.1 28.0h.01M40.5 28.8h.01M31.0 28.1h.01M35.9 25.0h.01M33.3 30.0h.01M35.8 30.7h.01M37.6 30.5h.01M73.3 30.4h.01M112.5 32.7h.01M107.2 30.7h.01M88.1 29.7h.01M66.1 27.9h.01M24.1 28.4h.01M135.6 29.2h.01M120.3 29.3h.01M74.3 29.1h.01M77.3 30.3h.01M77.8 25.8h.01M78.9 27.4h.01M66.7 30.8h.01M122.3 28.1h.01M15.5 25.8h.01M59.7 29.3h.01M129.5 29.8h.01M131.2 31.2h.01M71.8 27.9h.01M71.2 29.3h.01M55.6 27.8h.01M27.1 30.7h.01M46.0 29.6h.01M82.0 30.7h.01M49.7 26.8h.01M116.9 30.5h.01M57.3 26.6h.01M16.8 28.0h.01M96.9 30.5h.01M92.2 30.9h.01M92.7 29.6h.01M92.6 30.2h.01M91.5 28.3h.01M101.9 31.3h.01M47.3 26.7h.01M44.1 29.1h.01M42.2 30.9h.01M72.5 31.3h.01M116.1 28.6h.01M31.9 28.1h.01M93.0 27.3h.01M92.9 30.1h.01" stroke="#58ad32" stroke-width="1.9" opacity="0.85"/>
<path d="M116.8 30.1h.01M118.4 30.3h.01M108.6 29.6h.01M72.8 30.8h.01M94.7 31.7h.01M104.1 24.1h.01M104.3 31.8h.01M104.4 28.8h.01M99.6 31.6h.01M99.5 30.5h.01M57.8 30.8h.01M98.0 28.9h.01M73.0 28.9h.01M69.7 30.6h.01M37.9 30.7h.01M106.0 31.2h.01M39.9 29.4h.01M42.5 28.8h.01M31.4 29.0h.01M45.4 30.5h.01M33.6 26.5h.01M63.7 30.4h.01M112.7 29.3h.01M118.9 31.2h.01M66.6 30.9h.01M25.2 28.1h.01M59.4 31.3h.01M1.9 26.9h.01M134.2 30.3h.01M135.3 30.4h.01M54.2 28.2h.01M44.9 28.8h.01M49.7 32.1h.01M93.5 29.0h.01M111.9 31.4h.01M98.9 32.0h.01M59.8 26.8h.01M95.8 27.9h.01M76.8 27.8h.01M57.7 28.9h.01M34.9 29.9h.01M117.1 31.8h.01M115.5 29.3h.01M108.3 30.1h.01M28.6 28.0h.01M31.5 28.1h.01M43.0 29.4h.01M42.1 27.1h.01M122.6 27.8h.01M93.3 32.3h.01" stroke="#6fd03c" stroke-width="1.5"/>
<path d="M110.4 31.6h.01M73.5 31.6h.01M38.3 28.5h.01M39.5 29.8h.01M101.0 31.7h.01M73.1 28.2h.01M71.5 31.5h.01M122.1 29.6h.01M134.6 32.6h.01M31.5 30.4h.01M66.3 32.1h.01M26.0 27.5h.01M59.7 29.3h.01M61.3 29.6h.01M114.8 32.3h.01M73.1 27.7h.01M55.5 29.3h.01M27.2 29.9h.01M115.6 31.1h.01M46.2 27.7h.01M45.1 30.4h.01M35.2 29.0h.01M122.2 29.7h.01M122.2 31.8h.01M93.4 29.2h.01" stroke="#92f252" stroke-width="1.2"/>
</g>
<path d="M0 .4H137.4M136.9 0V41.0M.3 0V41.0M0 40.6H137.4" stroke="#10160c" stroke-width=".9" opacity=".55" fill="none"/>
</g>
<g id="G2" clip-path="url(#pc)">
<rect width="137.4" height="41.0" fill="#2b3d21"/>
<path d="M0 4.5L40 5L137.6 12L137.6 17.5L50 15.5L0 15Z" fill="#365528" opacity="0.95" filter="url(#b1)"/>
<path d="M25 -1L139 -1L139 9L80 3Z" fill="#222a1d" filter="url(#b1)"/>
<path d="M0 5.5L50 8L70 11L70 15.5L50 15.5L0 14.5Z" fill="url(#hg3)" opacity="0.9" filter="url(#b1)"/>
<path d="M0 23L6 23.3L12 23.6L18 24.9L24 26.2L30 27.5L36 28.5L42 29.4L48 30.4L54 30.8L60 30.8L66 30.7L72 30.6L78 30.5L84 30.1L90 29.7L96 29.2L102 28.8L108 28.3L114 27.8L120 27.4L126 26.9L132 26.4L137.6 26L137.6 31L132 31.5L126 32L120 32.6L114 33.1L108 33.6L102 34.2L96 34.7L90 35.3L84 35.8L78 36.2L72 36.4L66 36.6L60 36.7L54 37L48 37.2L42 37L36 36.7L30 36.5L24 34.8L18 33.1L12 31.4L6 30.7L0 30Z" fill="#395d2a" opacity="0.8" filter="url(#b1)"/>
<path d="M-2 40L25 40L40 39.5L75 38L139 33L139 43L-2 43Z" fill="#1e251b" filter="url(#b1)"/>
<g fill="none" stroke-linecap="round" filter="url(#b0)">
<path d="M42.9 11.4h.01M93.3 17.1h.01M17.7 11.9h.01M54.4 14.6h.01M17.8 13.0h.01M38.3 13.9h.01M16.0 12.0h.01M43.7 12.9h.01M84.0 14.0h.01M69.7 15.7h.01M108.2 15.2h.01M18.4 10.8h.01M28.4 14.1h.01M87.6 14.8h.01M11.7 10.7h.01M114.0 15.9h.01M52.9 13.4h.01M22.6 10.9h.01M16.9 9.1h.01M110.8 13.5h.01M119.7 15.1h.01M14.4 12.4h.01M23.2 13.2h.01M24.7 12.3h.01M52.8 14.7h.01M33.0 11.6h.01M34.3 15.3h.01M17.2 8.9h.01M123.0 15.5h.01M43.9 12.7h.01M36.1 12.9h.01M25.3 12.1h.01M41.9 12.3h.01M81.2 13.2h.01M23.5 11.7h.01M52.5 13.1h.01M40.1 14.2h.01M28.9 11.5h.01M52.1 13.8h.01M28.2 11.8h.01M14.1 10.7h.01M35.7 13.6h.01M46.4 12.6h.01M52.2 14.4h.01M43.0 14.3h.01M93.8 12.7h.01M80.1 13.8h.01M26.2 15.4h.01M114.3 14.4h.01M106.8 17.0h.01M99.7 14.4h.01M127.6 17.1h.01M50.9 14.5h.01M53.0 14.0h.01M89.4 15.3h.01M12.7 10.6h.01" stroke="#4a8f2c" stroke-width="2" opacity="0.6"/>
<path d="M124.1 14.9h.01M29.9 14.1h.01M42.7 11.6h.01M3.8 7.8h.01M45.0 14.2h.01M39.8 15.3h.01M31.9 12.3h.01M111.3 15.4h.01M18.4 11.1h.01M85.9 14.1h.01M27.4 15.5h.01M75.1 14.8h.01M40.2 11.0h.01M35.5 13.0h.01M23.4 12.9h.01M26.9 14.6h.01M128.5 15.5h.01M34.6 13.8h.01M11.9 13.4h.01M28.9 13.4h.01M23.3 9.2h.01M18.9 13.0h.01M11.8 11.4h.01M19.6 13.7h.01M92.5 13.6h.01" stroke="#58ad32" stroke-width="1.6" opacity="0.85"/>
<path d="M27.9 14.6h.01M50.7 13.3h.01M3.2 7.4h.01M13.4 10.9h.01M39.4 8.0h.01M4.6 12.2h.01M44.2 15.0h.01M37.9 13.1h.01M102.5 15.0h.01" stroke="#6fd03c" stroke-width="1.3"/>
<path d="M114.0 30.1h.01M18.9 29.5h.01M54.0 33.0h.01M54.9 36.1h.01M29.7 36.4h.01M102.9 30.5h.01M103.5 31.5h.01M74.7 32.6h.01M16.1 29.0h.01M61.1 35.6h.01M81.8 32.6h.01M74.8 32.9h.01M82.6 32.0h.01M84.3 31.5h.01M30.7 36.1h.01M29.7 34.0h.01M94.8 32.3h.01M22.5 30.6h.01M24.0 32.6h.01M51.2 29.8h.01M51.0 34.7h.01M50.7 36.4h.01M53.5 35.1h.01M31.1 30.0h.01M49.4 35.5h.01M16.9 30.9h.01M48.5 34.7h.01M48.7 34.3h.01M45.7 35.8h.01M46.7 35.5h.01M46.0 33.3h.01M107.7 31.0h.01M48.0 34.5h.01M48.5 36.7h.01M56.1 36.2h.01M55.2 33.9h.01M127.5 29.1h.01M54.3 33.3h.01M116.3 26.9h.01M53.0 33.5h.01M135.1 28.7h.01M74.2 34.3h.01M86.4 32.7h.01M105.8 29.5h.01M8.5 28.6h.01M5.6 27.0h.01M83.6 34.5h.01M38.9 38.1h.01M37.0 32.4h.01M124.6 31.2h.01M111.6 30.4h.01M112.9 28.6h.01M57.0 32.4h.01M57.5 33.9h.01M41.0 30.0h.01M36.4 31.7h.01M5.7 27.6h.01M103.1 31.1h.01M103.8 29.5h.01M31.9 35.8h.01M54.7 33.9h.01M131.4 30.1h.01M39.7 31.4h.01M41.7 31.3h.01M39.5 30.1h.01M110.0 29.8h.01M110.5 31.6h.01M109.7 31.6h.01M8.6 24.7h.01M117.9 30.7h.01M76.9 32.2h.01M123.0 31.7h.01M113.7 31.3h.01M134.2 29.5h.01M25.4 34.5h.01M91.8 32.1h.01M89.0 33.0h.01M11.5 30.1h.01M5.8 27.2h.01M5.8 29.1h.01M35.5 33.8h.01M85.6 32.2h.01M84.3 31.5h.01M1.7 25.8h.01M2.2 25.2h.01M98.9 31.2h.01M6.1 26.6h.01M6.4 26.4h.01M4.9 25.4h.01M1.8 27.9h.01M54.8 33.5h.01" stroke="#4a8f2c" stroke-width="2.3" opacity="0.6"/>
<path d="M114.5 31.2h.01M48.8 35.7h.01M52.9 33.7h.01M28.2 31.9h.01M117.9 30.7h.01M15.7 30.8h.01M85.7 33.2h.01M15.7 27.4h.01M17.6 25.8h.01M35.8 32.6h.01M36.1 31.4h.01M24.2 27.1h.01M135.2 28.5h.01M73.6 33.5h.01M116.4 29.9h.01M76.7 33.1h.01M75.5 32.8h.01M30.4 37.7h.01M25.5 27.9h.01M17.9 28.1h.01M17.7 29.4h.01M51.0 34.7h.01M49.4 32.9h.01M52.5 34.8h.01M29.8 31.7h.01M28.8 35.0h.01M47.5 32.9h.01M108.7 29.7h.01M42.6 30.6h.01M43.4 31.6h.01M52.1 37.5h.01M117.4 29.9h.01M19.4 25.3h.01M89.2 32.2h.01M36.2 31.4h.01M38.5 31.0h.01M38.2 28.5h.01M46.2 35.8h.01M107.4 29.6h.01M47.6 33.1h.01M87.2 32.8h.01M35.3 30.3h.01M35.7 33.2h.01M55.3 34.2h.01M20.8 31.2h.01M19.3 29.4h.01M18.6 29.5h.01M72.0 34.4h.01M104.8 31.9h.01M48.9 35.6h.01M9.4 25.6h.01M7.9 26.8h.01M8.2 25.8h.01M86.4 33.0h.01M133.2 30.4h.01M38.3 34.1h.01M123.6 30.9h.01M41.3 36.6h.01M71.0 33.1h.01M58.3 35.5h.01M58.3 35.9h.01M60.4 34.6h.01M56.3 33.0h.01M55.7 35.2h.01M57.9 35.5h.01M57.3 32.6h.01M107.6 32.0h.01M55.9 36.0h.01M84.0 32.2h.01M83.0 32.3h.01M114.9 29.7h.01M132.7 29.3h.01M41.8 34.9h.01M108.6 31.0h.01M67.3 34.3h.01M9.9 25.8h.01M38.7 32.1h.01M124.6 30.1h.01M78.4 35.5h.01M78.5 33.5h.01M78.4 33.6h.01M46.7 34.8h.01M49.6 36.3h.01M25.5 30.8h.01M25.1 34.3h.01M24.2 30.4h.01M8.7 27.6h.01M1.7 25.0h.01M2.9 24.5h.01M131.1 30.4h.01M1.9 26.4h.01M4.4 29.9h.01M3.5 24.2h.01M1.9 25.1h.01M76.0 32.6h.01M53.8 31.8h.01" stroke="#58ad32" stroke-width="1.9" opacity="0.85"/>
<path d="M106.7 30.6h.01M51.7 35.4h.01M30.4 29.4h.01M116.7 30.7h.01M27.0 30.0h.01M102.7 31.6h.01M103.3 29.4h.01M73.6 33.1h.01M73.6 35.0h.01M61.4 33.3h.01M32.0 34.0h.01M80.6 33.1h.01M16.9 29.7h.01M109.0 32.2h.01M108.4 29.2h.01M3.0 27.4h.01M4.8 27.5h.01M6.0 28.4h.01M17.9 28.8h.01M52.5 33.2h.01M88.4 34.1h.01M32.0 29.5h.01M30.4 31.0h.01M29.3 35.4h.01M86.4 32.8h.01M34.9 32.8h.01M36.9 34.5h.01M37.1 33.0h.01M37.3 34.1h.01M48.7 31.3h.01M48.3 36.1h.01M47.4 32.3h.01M85.3 33.9h.01M33.6 35.2h.01M20.8 29.6h.01M26.8 34.0h.01M27.3 26.9h.01M27.8 32.4h.01M11.2 25.6h.01M9.8 28.9h.01M73.1 34.4h.01M122.7 28.1h.01M113.9 30.7h.01M125.5 29.7h.01M98.7 31.2h.01M56.7 33.8h.01M37.3 35.1h.01M54.2 35.7h.01M83.9 34.2h.01M84.8 33.6h.01M86.2 32.8h.01M53.6 34.0h.01M43.2 35.4h.01M41.8 32.4h.01M37.3 34.4h.01M125.5 29.5h.01M78.7 33.2h.01M77.4 32.4h.01M45.2 30.4h.01M26.5 31.7h.01M26.5 28.2h.01M14.2 29.4h.01M11.9 28.8h.01M25.5 29.5h.01M3.9 25.7h.01M87.5 34.2h.01M5.9 23.4h.01M53.8 35.0h.01" stroke="#6fd03c" stroke-width="1.5"/>
<path d="M113.0 30.0h.01M100.6 30.6h.01M115.6 30.4h.01M134.8 28.7h.01M5.1 26.1h.01M14.7 24.6h.01M27.9 33.5h.01M1.6 26.3h.01M24.0 31.0h.01M51.3 36.6h.01M29.0 29.9h.01M38.9 33.7h.01M45.8 32.8h.01M21.7 32.8h.01M125.2 30.1h.01M125.9 30.4h.01M55.3 35.3h.01M23.4 32.9h.01M21.2 30.4h.01M134.4 29.9h.01M20.8 30.1h.01M27.7 33.9h.01M87.2 33.3h.01M47.8 33.6h.01M49.3 32.5h.01M104.1 32.7h.01M56.4 32.9h.01M3.3 29.7h.01M109.1 31.7h.01M69.9 32.5h.01M7.2 28.6h.01M133.4 29.1h.01M25.5 32.6h.01M3.2 26.3h.01M2.0 27.6h.01" stroke="#92f252" stroke-width="1.2"/>
</g>
<path d="M0 .4H137.4M136.9 0V41.0M.3 0V41.0M0 40.6H137.4" stroke="#10160c" stroke-width=".9" opacity=".55" fill="none"/>
</g>
<g id="G3" clip-path="url(#pc)">
<rect width="137.4" height="41.0" fill="#283621"/>
<path d="M0 4L60 5L137.6 12L137.6 19L60 14L0 12Z" fill="#2f4326" opacity="0.9" filter="url(#b1)"/>
<path d="M40 -1L139 -1L139 9L90 3Z" fill="#21281c" filter="url(#b1)"/>
<path d="M0 23.5L6 23.6L12 23.8L18 23.9L24 24.5L30 25.4L36 26.3L42 26.6L48 25.9L54 25.1L60 24.4L66 23.7L72 23L78 22.3L84 21.9L90 21.5L96 21.2L102 20.9L108 20.5L114 21.2L116 21.6L116 24.6L114 24.9L108 25.7L102 26.1L96 26.4L90 26.7L84 27.1L78 27.5L72 28.2L66 28.9L60 29.6L54 30.4L48 31.1L42 31.9L36 31.5L30 30.4L24 29.4L18 28.5L12 28.2L6 27.8L0 27.5Z" fill="#36512b" opacity="0.7" filter="url(#b1)"/>
<path d="M-2 43L36 38L45 33.5L60 30.8L90 27.8L139 26.5L139 43Z" fill="#1c2219" filter="url(#b1)"/>
<path d="M85.5 9L85.8 17" fill="none" stroke="#49703a" stroke-width="1.2" opacity="0.5" filter="url(#b1)"/>
<g fill="none" stroke-linecap="round" filter="url(#b0)">
<path d="M117.8 13.6h.01M2.2 8.6h.01M94.7 16.0h.01M16.2 10.4h.01M130.9 9.8h.01M125.2 9.4h.01M34.6 6.5h.01M74.2 6.0h.01M114.7 14.2h.01M49.3 10.3h.01M83.2 10.1h.01M17.6 8.6h.01M37.9 8.1h.01M36.6 3.6h.01M39.5 8.3h.01M10.9 11.6h.01M105.4 7.9h.01M10.9 7.2h.01" stroke="#447f2a" stroke-width="1.4" opacity="0.3"/>
<path d="M113.6 16.9h.01M124.6 12.7h.01" stroke="#58a832" stroke-width="1.2" opacity="0.4"/>
<path d="M52.2 12.2h.01M49.5 11.5h.01M48.2 11.3h.01M51.1 12.5h.01M47.5 12.7h.01" stroke="#447f2a" stroke-width="1.4" opacity="0.3"/>
<path d="M51.4 11.7h.01" stroke="#58a832" stroke-width="1.2" opacity="0.4"/>
<path d="M40.0 30.4h.01M31.3 28.4h.01M9.0 26.4h.01M10.8 26.4h.01M101.2 23.2h.01M57.4 26.2h.01M98.2 24.2h.01M67.6 26.3h.01M69.9 25.1h.01M112.1 24.2h.01M45.9 31.3h.01M49.9 28.4h.01M71.2 24.3h.01M55.2 26.7h.01M53.9 28.5h.01M2.0 24.5h.01M51.5 26.5h.01M64.5 27.1h.01M63.9 28.0h.01M66.5 26.6h.01M70.9 27.0h.01M70.4 25.9h.01M49.0 29.0h.01M107.9 23.4h.01M107.4 23.3h.01M108.4 23.2h.01M107.9 20.5h.01M107.0 25.9h.01M102.6 22.3h.01M25.7 27.8h.01M48.3 29.2h.01M31.0 27.4h.01M59.5 29.0h.01M59.6 27.0h.01M80.1 25.4h.01M77.6 27.6h.01M79.9 23.6h.01M80.2 23.9h.01M78.6 27.3h.01M78.9 25.6h.01M75.3 28.4h.01M45.6 28.8h.01M51.6 28.3h.01M50.9 25.9h.01M96.4 24.0h.01M97.5 23.1h.01M99.0 21.1h.01M105.0 24.4h.01M98.4 23.5h.01M96.7 24.3h.01M56.4 28.5h.01M93.3 22.9h.01M106.1 22.5h.01M68.7 25.4h.01M98.8 22.7h.01M98.7 22.1h.01M77.5 24.2h.01M24.5 26.8h.01M65.4 26.5h.01M40.2 28.6h.01M80.7 24.4h.01M53.3 29.4h.01M89.7 23.6h.01" stroke="#4a8f2c" stroke-width="2.3" opacity="0.6"/>
<path d="M57.3 27.6h.01M90.2 24.2h.01M102.6 23.5h.01M101.1 24.2h.01M103.2 23.0h.01M56.5 29.6h.01M52.5 27.5h.01M40.9 30.2h.01M112.8 23.7h.01M102.0 23.6h.01M72.9 24.8h.01M74.8 26.8h.01M74.3 26.3h.01M54.9 27.6h.01M60.3 26.9h.01M63.9 25.1h.01M67.4 28.2h.01M65.7 26.8h.01M22.8 27.4h.01M21.6 24.3h.01M39.4 30.3h.01M69.4 24.2h.01M67.9 26.4h.01M107.9 23.9h.01M107.8 22.5h.01M108.7 24.1h.01M108.7 23.1h.01M103.1 18.9h.01M102.4 23.0h.01M26.2 29.4h.01M124.8 23.1h.01M59.7 25.5h.01M60.3 29.0h.01M41.0 29.0h.01M90.0 25.9h.01M60.1 29.0h.01M70.5 24.4h.01M69.9 26.9h.01M78.7 26.1h.01M76.9 24.7h.01M76.2 22.5h.01M48.5 27.7h.01M51.6 28.0h.01M51.6 28.6h.01M97.2 24.0h.01M97.6 21.4h.01M106.0 23.9h.01M98.8 22.8h.01M100.7 22.4h.01M34.0 28.9h.01M90.8 23.4h.01M63.5 27.5h.01M106.5 23.7h.01M76.9 24.9h.01M31.9 29.1h.01M22.3 25.5h.01M24.9 27.2h.01M65.8 25.7h.01M38.5 27.2h.01M40.8 30.3h.01M41.2 31.7h.01M92.1 24.8h.01M51.8 29.5h.01M52.3 31.2h.01M53.5 27.6h.01M54.6 27.7h.01M57.5 25.9h.01" stroke="#58ad32" stroke-width="1.9" opacity="0.85"/>
<path d="M128.4 24.5h.01M41.3 29.8h.01M32.0 26.5h.01M29.6 27.5h.01M10.4 26.6h.01M65.2 24.6h.01M85.3 24.2h.01M72.1 27.3h.01M74.8 23.8h.01M73.5 24.1h.01M74.3 25.9h.01M64.9 27.7h.01M65.0 24.8h.01M65.4 25.1h.01M20.2 26.8h.01M38.5 28.6h.01M94.0 23.5h.01M96.7 22.6h.01M48.8 29.3h.01M43.4 29.0h.01M40.4 31.3h.01M70.1 25.4h.01M69.8 24.1h.01M79.4 23.9h.01M76.0 24.1h.01M73.0 26.7h.01M46.0 28.4h.01M48.7 29.1h.01M97.4 23.5h.01M98.0 26.3h.01M106.0 23.1h.01M106.0 24.1h.01M96.6 24.9h.01M98.7 23.6h.01M34.0 29.8h.01M106.2 23.3h.01M23.6 25.8h.01M41.1 27.6h.01M31.2 28.4h.01M55.0 25.6h.01" stroke="#6fd03c" stroke-width="1.5"/>
<path d="M104.5 22.4h.01M68.2 25.1h.01M83.3 25.5h.01M74.2 25.7h.01M73.8 26.8h.01M62.7 26.3h.01M67.6 24.8h.01M69.3 26.1h.01M71.0 24.3h.01M71.0 26.6h.01M102.8 23.9h.01M97.3 23.0h.01M80.3 26.4h.01M78.7 26.1h.01M77.5 26.0h.01M50.2 27.9h.01M100.9 23.7h.01M93.0 21.5h.01M76.5 25.5h.01M56.5 28.9h.01" stroke="#92f252" stroke-width="1.2"/>
</g>
<path d="M0 .4H137.4M136.9 0V41.0M.3 0V41.0M0 40.6H137.4" stroke="#10160c" stroke-width=".9" opacity=".55" fill="none"/>
</g>
<g id="G4" clip-path="url(#pc)">
<rect width="137.4" height="41.0" fill="#283821"/>
<path d="M0 4L60 5L137.6 12L137.6 18.5L60 13L0 11Z" fill="#304726" opacity="0.9" filter="url(#b1)"/>
<path d="M30 -1L139 -1L139 9L90 3Z" fill="#20271b" filter="url(#b1)"/>
<path d="M36 23L42 23.7L48 24.3L54 25L60 25.7L66 26.7L72 27.5L78 27.7L84 27.9L90 28.1L96 28.3L102 28.4L108 28.1L114 27.8L120 27.5L126 27L132 26.5L137.6 26L137.6 31L132 31.5L126 32L120 32.5L114 32.8L108 33.1L102 33.4L96 33.4L90 33.2L84 33L78 32.8L72 32.7L66 31.9L60 30.9L54 29.7L48 28.4L42 27.2L36 26Z" fill="#34502a" opacity="0.7" filter="url(#b1)"/>
<path d="M-2 36L40 36L60 34.5L139 34.5L139 43L-2 43Z" fill="#1b2118" filter="url(#b1)"/>
<g fill="none" stroke-linecap="round" filter="url(#b0)">
<path d="M131.8 16.4h.01M53.6 8.7h.01M86.5 10.4h.01M32.2 7.0h.01M43.1 8.4h.01M64.4 9.6h.01M95.7 12.2h.01M62.1 9.6h.01M75.3 10.6h.01M56.0 7.7h.01M61.4 8.7h.01M134.5 15.1h.01M88.1 11.1h.01M50.1 7.9h.01M58.9 9.6h.01M102.6 12.2h.01M103.3 11.9h.01M69.5 10.6h.01M36.3 10.0h.01M74.5 10.0h.01M106.6 14.5h.01M75.2 11.1h.01M46.1 9.2h.01M85.6 11.7h.01M90.5 12.0h.01M98.8 12.0h.01M135.6 16.8h.01M71.1 8.0h.01M51.7 8.9h.01M33.6 8.4h.01M34.7 8.9h.01M47.7 8.0h.01M104.7 13.3h.01M104.9 13.0h.01M88.9 12.1h.01" stroke="#447f2a" stroke-width="1.4" opacity="0.5"/>
<path d="M115.0 13.7h.01M32.4 8.0h.01M56.6 9.2h.01M41.9 10.1h.01M57.2 8.6h.01M121.7 14.3h.01M133.7 16.9h.01M49.1 8.6h.01M128.3 13.7h.01M97.4 12.8h.01M114.9 12.4h.01M136.3 14.4h.01M93.2 10.1h.01M84.4 8.1h.01M71.1 9.9h.01M95.7 12.0h.01M111.7 13.9h.01M100.4 12.2h.01M133.1 14.2h.01M14.3 7.8h.01M116.6 13.3h.01M109.1 14.6h.01M135.7 16.0h.01M55.2 8.0h.01M100.9 12.0h.01" stroke="#58a832" stroke-width="1.2" opacity="0.7"/>
<path d="M23.6 22.6h.01M25.6 21.4h.01M27.8 22.5h.01M15.9 19.8h.01M27.4 23.6h.01M12.4 23.6h.01M28.4 21.3h.01M13.8 23.3h.01M21.6 22.0h.01M27.3 23.1h.01" stroke="#4a8f2c" stroke-width="2.3" opacity="0.6"/>
<path d="M27.9 24.7h.01M15.5 22.1h.01M25.0 23.7h.01M19.9 23.4h.01M28.7 24.1h.01M26.2 23.3h.01M13.8 24.0h.01M25.6 22.1h.01M12.2 23.5h.01M13.9 22.8h.01M27.4 23.5h.01M16.1 22.5h.01" stroke="#58ad32" stroke-width="1.9" opacity="0.85"/>
<path d="M14.4 23.9h.01M14.9 22.5h.01M15.2 21.9h.01M27.4 22.6h.01M26.2 21.2h.01M14.4 23.7h.01" stroke="#6fd03c" stroke-width="1.5"/>
<path d="M24.0 23.4h.01M13.1 24.8h.01M15.6 22.3h.01M12.6 22.4h.01M27.2 23.3h.01M19.6 23.6h.01" stroke="#92f252" stroke-width="1.2"/>
<path d="M69.3 30.8h.01M89.5 28.5h.01M133.6 28.1h.01M134.5 29.9h.01M89.9 31.0h.01M101.8 33.0h.01M102.7 30.2h.01M97.5 32.4h.01M124.7 28.1h.01M124.6 29.6h.01M121.1 31.4h.01M92.8 30.9h.01M95.4 31.1h.01M86.1 29.7h.01M84.1 31.0h.01M78.4 31.3h.01M40.2 24.2h.01M132.6 26.4h.01M117.1 30.3h.01M116.5 29.5h.01M63.0 30.4h.01M92.3 29.4h.01M93.0 30.6h.01M93.1 29.9h.01M92.4 32.4h.01M84.0 30.4h.01M80.9 30.2h.01M101.2 31.4h.01M111.9 31.9h.01M135.6 29.6h.01M134.9 30.0h.01M135.6 27.4h.01M135.6 28.4h.01M107.9 30.2h.01M123.3 31.7h.01M130.7 31.1h.01M79.8 30.8h.01M74.3 31.4h.01M43.5 23.8h.01M73.9 30.1h.01M127.5 28.2h.01M122.9 29.2h.01M122.8 30.4h.01M122.6 30.9h.01M121.8 30.3h.01M62.9 27.8h.01M81.1 28.8h.01M82.5 32.0h.01M82.5 32.5h.01M83.2 31.4h.01M78.3 30.4h.01M94.9 30.8h.01M94.3 28.8h.01M91.9 29.0h.01M76.8 30.7h.01M74.8 30.2h.01M130.4 28.6h.01M130.2 26.9h.01M130.4 29.5h.01M129.8 28.6h.01M74.8 30.2h.01M94.7 30.2h.01M115.8 29.6h.01M126.4 28.6h.01M125.7 27.7h.01M125.4 29.3h.01M52.6 28.5h.01M133.3 28.2h.01M131.4 26.9h.01" stroke="#4a8f2c" stroke-width="2.3" opacity="0.6"/>
<path d="M100.2 30.6h.01M100.3 30.5h.01M100.4 29.3h.01M90.9 31.5h.01M90.2 30.2h.01M87.6 30.7h.01M88.6 29.7h.01M101.2 29.8h.01M103.6 30.8h.01M102.9 30.4h.01M102.1 30.6h.01M115.2 29.9h.01M112.8 28.5h.01M99.6 32.0h.01M95.8 30.1h.01M96.0 31.1h.01M122.3 28.8h.01M69.6 30.2h.01M94.6 32.3h.01M82.0 30.7h.01M82.4 30.8h.01M77.2 29.3h.01M43.1 26.0h.01M42.9 26.7h.01M40.1 24.7h.01M38.3 25.5h.01M134.1 28.6h.01M133.9 30.6h.01M133.6 28.1h.01M132.3 28.3h.01M133.7 29.7h.01M80.8 32.0h.01M81.7 29.6h.01M80.6 30.2h.01M63.8 28.4h.01M82.1 30.3h.01M134.4 29.3h.01M134.2 30.2h.01M134.5 26.9h.01M105.6 32.2h.01M107.1 32.1h.01M105.7 33.4h.01M124.0 28.2h.01M129.6 30.2h.01M79.1 28.6h.01M75.1 28.6h.01M73.7 32.2h.01M43.2 24.5h.01M44.1 24.8h.01M88.0 28.9h.01M42.0 25.9h.01M114.0 29.9h.01M128.2 30.1h.01M129.3 27.4h.01M127.5 28.8h.01M113.8 28.7h.01M113.9 29.4h.01M112.0 29.4h.01M78.6 30.1h.01M77.7 28.3h.01M77.5 30.3h.01M96.1 32.3h.01M96.5 31.4h.01M95.7 32.5h.01M122.4 28.3h.01M130.5 27.9h.01M130.6 27.8h.01M130.1 30.0h.01M129.9 33.3h.01M75.8 31.4h.01M76.3 29.0h.01M77.9 30.1h.01M80.8 31.0h.01M102.9 30.9h.01M102.0 29.6h.01M97.8 31.7h.01M54.2 27.2h.01M132.4 29.9h.01M114.9 30.7h.01M113.4 30.5h.01M114.3 30.1h.01" stroke="#58ad32" stroke-width="1.9" opacity="0.85"/>
<path d="M96.7 30.8h.01M133.2 28.8h.01M134.4 27.8h.01M136.2 28.5h.01M102.4 29.6h.01M100.7 32.1h.01M121.2 29.5h.01M73.5 32.8h.01M43.9 25.8h.01M42.6 24.6h.01M41.9 23.9h.01M132.6 30.8h.01M69.0 29.7h.01M74.5 31.1h.01M95.0 30.8h.01M41.0 26.7h.01M63.9 28.4h.01M65.4 30.6h.01M136.4 28.9h.01M75.4 28.1h.01M42.5 27.0h.01M125.9 29.8h.01M125.0 30.3h.01M122.3 29.9h.01M121.2 30.6h.01M127.4 26.6h.01M46.8 25.2h.01M45.9 26.1h.01M78.4 27.7h.01M95.0 32.4h.01M95.4 31.2h.01M132.5 28.6h.01M131.2 26.4h.01M76.5 32.3h.01M74.4 32.2h.01M80.1 31.5h.01M96.0 30.2h.01M94.2 29.8h.01M96.3 30.7h.01M124.6 29.1h.01" stroke="#6fd03c" stroke-width="1.5"/>
<path d="M100.6 32.9h.01M102.7 31.4h.01M101.7 30.8h.01M69.9 30.1h.01M71.5 30.6h.01M42.1 24.3h.01M39.3 24.6h.01M133.8 29.7h.01M73.3 32.7h.01M76.0 33.0h.01M107.7 29.4h.01M44.8 28.5h.01M88.7 30.7h.01M73.7 29.9h.01M124.1 30.1h.01M123.6 32.9h.01M80.3 30.7h.01M96.4 30.6h.01M108.1 29.5h.01M67.3 30.0h.01M77.4 30.1h.01M76.5 30.8h.01M96.7 30.7h.01M96.4 31.4h.01M126.3 30.1h.01" stroke="#92f252" stroke-width="1.2"/>
<path d="M22.7 29.7h.01M4.8 25.3h.01M22.7 30.2h.01M21.0 25.0h.01M18.5 30.5h.01M13.8 32.7h.01M26.5 25.9h.01M6.1 33.1h.01M36.9 29.6h.01M4.7 29.2h.01" stroke="#447f2a" stroke-width="1.4" opacity="0.3"/>
<path d="M11.6 34.1h.01M38.5 37.0h.01M39.5 29.7h.01M32.9 27.1h.01" stroke="#58a832" stroke-width="1.2" opacity="0.4"/>
</g>
<path d="M0 .4H137.4M136.9 0V41.0M.3 0V41.0M0 40.6H137.4" stroke="#10160c" stroke-width=".9" opacity=".55" fill="none"/>
</g>
<g id="G5" clip-path="url(#pc)">
<rect width="137.4" height="41.0" fill="#2c3f22"/>
<path d="M0 2L137.6 1.5L137.6 13.5L0 12.5Z" fill="#345128" opacity="0.95" filter="url(#b1)"/>
<path d="M40 1.5L137.6 1.5L137.6 12.5L40 11.5Z" fill="url(#hg6)" opacity="0.7" filter="url(#b1)"/>
<path d="M0 14.5L137.6 15L137.6 20L0 19.5Z" fill="#283920" opacity="0.8" filter="url(#b1)"/>
<path d="M18 21.6L24 21.6L30 21.7L36 21.8L42 21.8L48 21.9L54 21.9L60 22L66 22.1L72 22.1L78 22.2L84 22.3L90 22.3L96 22.4L102 22.4L108 22.5L114 22.6L120 22.6L126 22.7L132 22.7L134 22.8L134 29.2L132 29.1L126 29.1L120 29L114 29L108 28.9L102 28.8L96 28.8L90 28.7L84 28.7L78 28.6L72 28.5L66 28.5L60 28.4L54 28.3L48 28.3L42 28.2L36 28.2L30 28.1L24 28L18 28Z" fill="#3a5c2a" opacity="0.8" filter="url(#b1)"/>
<path d="M-2 31.5L139 32L139 43L-2 43Z" fill="#253222" filter="url(#b1)"/>
<g fill="none" stroke-linecap="round" filter="url(#b0)">
<path d="M76.9 8.8h.01M63.1 5.0h.01M95.5 9.9h.01M119.8 11.6h.01M79.9 9.1h.01M50.7 6.8h.01M23.6 4.4h.01M99.9 3.1h.01M66.2 5.7h.01M37.4 6.2h.01M29.7 4.7h.01M114.3 8.1h.01M127.0 3.4h.01M94.5 5.9h.01M71.8 8.2h.01M83.6 3.4h.01M93.7 7.8h.01M130.3 7.9h.01M92.6 7.9h.01M72.9 2.1h.01M129.4 7.9h.01M78.3 5.4h.01M112.7 8.1h.01M131.3 4.4h.01M127.6 14.5h.01M109.3 6.5h.01M85.0 7.7h.01M71.9 6.5h.01M120.6 5.1h.01M92.8 8.0h.01M134.3 5.1h.01M132.0 10.2h.01M67.8 4.2h.01M99.8 3.6h.01M24.4 4.8h.01M97.7 9.2h.01M67.9 4.4h.01M81.3 6.6h.01M129.7 6.9h.01M113.8 7.4h.01M39.7 5.3h.01M66.1 8.5h.01M134.5 8.3h.01M124.1 2.8h.01M29.9 3.2h.01M71.8 7.9h.01M103.7 7.2h.01M72.8 8.2h.01M121.3 8.3h.01M121.0 6.4h.01M119.7 6.4h.01M51.6 7.2h.01M127.5 8.9h.01M39.6 9.9h.01M96.9 5.4h.01M64.5 5.9h.01M65.3 6.0h.01M61.5 4.4h.01M129.3 5.7h.01M125.7 1.4h.01" stroke="#447f2a" stroke-width="1.4" opacity="0.5"/>
<path d="M115.2 3.0h.01M42.5 7.8h.01M3.3 3.6h.01M77.0 6.7h.01M125.6 8.6h.01M112.6 11.3h.01M124.6 5.7h.01M10.6 7.8h.01M119.2 9.4h.01M118.7 4.2h.01M113.2 4.7h.01M101.7 3.0h.01M92.7 8.7h.01M118.2 7.8h.01M15.7 4.5h.01M68.2 4.9h.01M120.5 8.7h.01M85.9 6.6h.01M48.1 8.4h.01M87.8 7.7h.01M5.2 4.2h.01M130.4 6.8h.01M79.3 10.6h.01M106.1 3.2h.01M34.2 7.7h.01M128.8 7.0h.01M130.9 2.5h.01M71.2 10.1h.01M8.8 5.7h.01M94.3 6.4h.01M107.7 8.2h.01M127.5 3.3h.01M75.6 6.9h.01M92.8 7.9h.01M26.0 6.8h.01M64.4 1.8h.01M45.1 2.5h.01M116.8 4.3h.01M106.2 2.2h.01M87.2 2.0h.01M40.4 6.8h.01M112.4 2.4h.01M96.4 5.3h.01M133.5 4.6h.01M47.9 9.5h.01M110.7 9.0h.01M117.5 5.1h.01M10.3 5.5h.01M119.8 2.9h.01M81.3 7.4h.01" stroke="#58a832" stroke-width="1.2" opacity="0.65"/>
<path d="M106.8 16.7h.01M117.2 18.4h.01M122.8 18.6h.01M112.8 16.5h.01M120.8 16.3h.01M125.2 16.9h.01M16.7 17.6h.01M124.9 15.5h.01M109.2 18.6h.01M53.3 17.2h.01M132.9 16.7h.01M129.1 16.6h.01M103.8 17.8h.01M116.2 17.6h.01M126.9 16.4h.01M81.2 16.7h.01M123.5 17.6h.01M120.6 16.6h.01M107.1 20.4h.01" stroke="#447f2a" stroke-width="1.4" opacity="0.3"/>
<path d="M111.1 17.5h.01M114.8 18.3h.01M111.2 18.3h.01M131.2 18.5h.01M133.2 19.1h.01" stroke="#58a832" stroke-width="1.2" opacity="0.4"/>
<path d="M68.6 26.5h.01M69.8 25.3h.01M47.6 25.8h.01M74.1 27.2h.01M73.5 23.9h.01M48.6 21.8h.01M55.9 22.6h.01M37.9 24.6h.01M113.2 26.7h.01M67.6 22.9h.01M66.2 22.6h.01M68.9 25.8h.01M92.9 24.2h.01M83.5 26.8h.01M81.9 26.5h.01M43.7 26.8h.01M44.5 21.8h.01M48.9 24.2h.01M50.1 23.5h.01M48.3 25.2h.01M65.9 25.8h.01M67.3 25.2h.01M110.9 24.1h.01M112.0 22.2h.01M64.6 27.1h.01M92.2 25.1h.01M93.2 27.1h.01M94.6 25.1h.01M122.8 27.8h.01M74.7 24.7h.01M75.4 23.5h.01M99.5 26.5h.01M87.0 24.4h.01M113.4 25.3h.01M112.2 25.9h.01M110.8 27.1h.01M113.1 25.5h.01M116.9 24.1h.01M25.8 26.9h.01M25.0 25.2h.01M86.6 25.5h.01M71.8 23.9h.01M70.8 25.2h.01M66.3 23.7h.01M66.5 26.4h.01M63.8 25.0h.01M130.1 26.4h.01M43.3 24.7h.01M84.7 24.4h.01M84.2 26.7h.01M58.6 25.3h.01M59.4 25.3h.01M57.0 24.5h.01M66.6 26.0h.01M53.7 23.4h.01M8.5 23.7h.01M109.5 25.1h.01M111.5 23.7h.01M40.5 23.0h.01M40.6 25.6h.01M94.3 25.0h.01M91.8 26.1h.01M52.5 24.0h.01M54.7 23.5h.01M114.0 26.2h.01M34.0 27.1h.01M32.1 27.4h.01M48.2 24.0h.01M71.2 25.5h.01M41.3 25.7h.01M39.5 24.8h.01M39.2 23.4h.01M40.7 24.3h.01M93.9 26.3h.01M73.0 25.9h.01M72.6 25.7h.01M73.1 26.4h.01M128.4 25.9h.01M4.6 23.8h.01M98.4 28.0h.01M98.5 25.6h.01M99.1 25.4h.01M25.7 24.6h.01M26.1 25.1h.01M29.3 27.7h.01M27.4 26.4h.01M118.2 25.4h.01M118.6 25.3h.01M122.2 24.3h.01M122.0 22.8h.01M81.9 24.4h.01M115.2 27.9h.01M113.5 23.3h.01M49.0 24.4h.01M46.9 26.1h.01" stroke="#4a8f2c" stroke-width="2.3" opacity="0.6"/>
<path d="M47.2 25.1h.01M93.3 26.6h.01M94.3 24.3h.01M112.0 25.2h.01M77.8 26.1h.01M7.3 23.6h.01M7.1 24.4h.01M41.1 24.8h.01M65.8 25.2h.01M66.9 25.5h.01M3.2 23.0h.01M4.4 22.5h.01M83.8 24.8h.01M82.1 26.3h.01M47.0 25.5h.01M49.2 24.9h.01M50.4 27.1h.01M129.2 25.0h.01M67.9 27.3h.01M68.1 26.9h.01M95.0 23.2h.01M122.0 26.0h.01M123.8 22.4h.01M125.8 26.5h.01M33.4 26.4h.01M66.6 23.8h.01M86.0 26.0h.01M110.8 25.6h.01M112.8 24.7h.01M29.0 23.2h.01M29.6 23.5h.01M28.1 25.8h.01M63.5 26.1h.01M69.0 27.1h.01M65.7 24.3h.01M65.1 25.9h.01M128.1 27.8h.01M129.6 27.3h.01M5.0 24.9h.01M58.3 24.4h.01M59.3 24.3h.01M58.7 24.6h.01M57.7 23.4h.01M65.5 25.3h.01M66.1 26.2h.01M49.5 25.2h.01M25.8 26.1h.01M84.4 26.0h.01M8.2 25.2h.01M111.6 24.7h.01M110.2 26.7h.01M110.0 26.2h.01M129.6 26.9h.01M52.9 28.0h.01M51.7 24.9h.01M52.5 26.1h.01M55.6 27.1h.01M111.5 24.5h.01M115.3 25.1h.01M92.3 25.8h.01M33.4 24.7h.01M30.4 23.1h.01M70.2 24.3h.01M80.2 22.9h.01M80.8 24.8h.01M73.7 25.3h.01M72.6 24.7h.01M72.7 26.8h.01M72.2 26.2h.01M70.7 24.5h.01M127.5 27.4h.01M128.5 25.2h.01M97.4 24.7h.01M97.7 25.2h.01M25.2 23.8h.01M125.0 25.9h.01M19.5 23.8h.01M119.6 23.8h.01M84.3 27.3h.01M121.9 24.9h.01M120.1 25.3h.01M119.2 25.4h.01M82.7 26.1h.01M82.2 25.3h.01M110.3 28.5h.01M111.1 24.8h.01M109.6 24.8h.01M115.4 26.8h.01M48.2 23.8h.01" stroke="#58ad32" stroke-width="1.9" opacity="0.85"/>
<path d="M70.2 24.9h.01M75.9 26.5h.01M34.1 23.8h.01M92.0 26.2h.01M44.3 26.4h.01M44.9 26.5h.01M67.1 27.1h.01M112.0 27.0h.01M64.1 25.0h.01M93.8 26.5h.01M24.2 23.7h.01M122.8 24.8h.01M123.2 22.5h.01M66.8 23.2h.01M44.3 25.0h.01M112.6 26.1h.01M26.7 26.4h.01M26.8 24.5h.01M29.1 25.5h.01M27.5 23.3h.01M25.3 22.6h.01M64.9 23.9h.01M129.2 27.6h.01M44.6 24.4h.01M71.5 22.9h.01M54.4 24.8h.01M79.8 27.6h.01M59.7 25.0h.01M91.4 25.0h.01M90.0 26.2h.01M52.7 25.8h.01M51.5 27.3h.01M109.5 26.0h.01M110.5 25.4h.01M110.3 26.9h.01M110.5 25.9h.01M109.7 27.1h.01M31.5 21.6h.01M95.3 26.6h.01M72.9 24.2h.01M128.1 28.1h.01M45.5 23.4h.01M27.6 26.8h.01M105.5 25.6h.01M81.7 24.8h.01M80.8 24.4h.01M112.8 25.1h.01M114.3 25.5h.01M111.3 26.0h.01M43.6 24.3h.01" stroke="#6fd03c" stroke-width="1.5"/>
<path d="M74.8 23.8h.01M6.7 24.2h.01M37.8 25.5h.01M67.3 26.3h.01M65.0 27.6h.01M43.3 23.9h.01M49.3 24.2h.01M48.1 23.4h.01M111.1 25.5h.01M63.6 24.0h.01M73.7 24.2h.01M112.1 24.8h.01M119.0 25.3h.01M26.4 24.1h.01M26.7 23.2h.01M68.1 25.1h.01M43.8 26.0h.01M54.5 23.8h.01M56.7 23.4h.01M64.4 26.4h.01M82.8 23.9h.01M74.6 25.0h.01M112.5 25.4h.01M111.4 25.0h.01M111.5 25.3h.01M93.4 24.7h.01M99.0 26.3h.01M25.2 24.7h.01M29.0 22.9h.01M121.4 26.0h.01M104.3 26.1h.01M80.3 26.2h.01M81.5 26.1h.01M108.7 24.8h.01M111.7 26.3h.01M114.3 24.3h.01" stroke="#92f252" stroke-width="1.2"/>
<path d="M99.4 33.5h.01M78.7 35.3h.01M81.9 31.3h.01M41.3 33.1h.01M33.0 29.3h.01M125.9 34.0h.01M65.8 32.3h.01M122.7 32.0h.01M107.3 30.3h.01M82.0 30.3h.01M84.9 33.7h.01M47.9 34.5h.01M40.9 32.8h.01M21.3 31.7h.01M64.0 32.8h.01M117.8 30.8h.01M12.7 31.0h.01M99.8 34.5h.01M108.4 34.0h.01M1.8 32.4h.01M65.5 32.6h.01M51.6 31.4h.01M120.8 34.7h.01M64.8 32.2h.01M32.1 32.8h.01M89.7 31.6h.01" stroke="#447f2a" stroke-width="1.4" opacity="0.3"/>
<path d="M72.5 30.9h.01M38.9 33.2h.01M67.9 32.2h.01M108.8 30.5h.01M73.6 33.0h.01M35.1 32.6h.01M63.7 32.9h.01M87.8 32.7h.01M5.9 32.5h.01M17.2 30.6h.01M14.1 31.3h.01M58.3 34.1h.01M26.7 34.7h.01M89.0 34.0h.01" stroke="#58a832" stroke-width="1.2" opacity="0.4"/>
</g>
<path d="M0 .4H137.4M136.9 0V41.0M.3 0V41.0M0 40.6H137.4" stroke="#10160c" stroke-width=".9" opacity=".55" fill="none"/>
</g>
<g id="R0" fill="none" stroke-linecap="round" stroke="#d9262a" filter="url(#b0)">
<path d="M57.1 3.3h.01" stroke-width="1.38" opacity="0.9"/>
<path d="M59.8 3.3h.01" stroke-width="1.38" opacity="0.9"/>
<path d="M62.5 3.3h.01" stroke-width="1.38" opacity="0.8"/>
<path d="M65.0 3.6h.01" stroke-width="1.25" opacity="0.7"/>
<path d="M112.2 9.6h.01" stroke-width="1.50" opacity="0.7"/>
<path d="M20.8 6.9h.01" stroke-width="1.12" opacity="0.35"/>
<path d="M93.1 30.1h.01" stroke-width="1.12" opacity="0.4"/>
<path d="M127.3 24.6h.01" stroke-width="1.12" opacity="0.4"/>
<path d="M50.8 27.3h.01" stroke-width="1.12" opacity="0.35"/>
<path d="M16.7 27.9h.01" stroke-width="1.12" opacity="0.3"/>
<path d="M69.9 29.5h.01" stroke-width="1.00" opacity="0.3"/>
<path d="M33.0 30.1h.01" stroke-width="1.00" opacity="0.3"/>
<path d="M4.4 17.8h.01" stroke-width="1.00" opacity="0.25"/>
<path d="M21.4 31.0h.01M99.4 27.1h.01M108.4 31.0h.01M8.4 37.0h.01M46.6 31.2h.01M104.1 29.9h.01M48.2 31.2h.01M130.1 31.1h.01M121.9 7.9h.01M88.3 29.2h.01M2.8 31.3h.01M27.6 35.8h.01M33.6 28.5h.01M86.8 6.7h.01M75.7 24.5h.01M97.4 20.8h.01M40.6 29.0h.01M115.6 29.1h.01M66.3 32.1h.01M120.4 11.3h.01M114.7 28.4h.01M104.0 27.4h.01M21.6 33.9h.01M23.9 28.1h.01M18.1 30.8h.01M81.2 29.0h.01M88.6 23.0h.01M46.4 32.4h.01M17.2 28.2h.01M29.8 30.2h.01" stroke-width="1" opacity=".32"/>
</g>
<g id="R1" fill="none" stroke-linecap="round" stroke="#d9262a" filter="url(#b0)">
<path d="M63.1 24.3h.01" stroke-width="1.62" opacity="0.9"/>
<path d="M67.2 27.0h.01" stroke-width="1.50" opacity="0.85"/>
<path d="M56.3 22.9h.01" stroke-width="1.38" opacity="0.8"/>
<path d="M5.7 22.9h.01" stroke-width="1.38" opacity="0.7"/>
<path d="M0.3 25.7h.01" stroke-width="1.50" opacity="0.8"/>
<path d="M63.1 2.5h.01" stroke-width="1.12" opacity="0.5"/>
<path d="M65.8 6.6h.01" stroke-width="1.12" opacity="0.5"/>
<path d="M84.9 2.5h.01" stroke-width="1.12" opacity="0.4"/>
<path d="M115.0 10.7h.01" stroke-width="1.12" opacity="0.4"/>
<path d="M125.9 9.3h.01" stroke-width="1.12" opacity="0.4"/>
<path d="M94.5 31.1h.01" stroke-width="1.25" opacity="0.6"/>
<path d="M13.9 24.3h.01" stroke-width="1.12" opacity="0.5"/>
<path d="M24.9 23.5h.01" stroke-width="1.12" opacity="0.5"/>
<path d="M33.0 25.7h.01" stroke-width="1.25" opacity="0.6"/>
<path d="M41.2 26.5h.01" stroke-width="1.12" opacity="0.5"/>
<path d="M48.1 25.1h.01" stroke-width="1.25" opacity="0.6"/>
<path d="M75.4 25.7h.01" stroke-width="1.12" opacity="0.5"/>
<path d="M82.2 26.5h.01" stroke-width="1.25" opacity="0.55"/>
<path d="M90.4 25.1h.01" stroke-width="1.12" opacity="0.5"/>
<path d="M101.3 26.5h.01" stroke-width="1.12" opacity="0.45"/>
<path d="M109.5 25.4h.01" stroke-width="1.12" opacity="0.45"/>
<path d="M119.1 24.3h.01" stroke-width="1.12" opacity="0.4"/>
<path d="M128.6 23.8h.01" stroke-width="1.12" opacity="0.4"/>
<path d="M37.1 31.1h.01" stroke-width="1.00" opacity="0.4"/>
<path d="M79.5 22.9h.01" stroke-width="1.00" opacity="0.4"/>
<path d="M79.3 30.4h.01M64.1 9.9h.01M31.5 25.6h.01M94.1 27.6h.01M27.7 26.2h.01M104.4 25.7h.01M86.8 27.2h.01M29.7 26.1h.01M111.5 26.6h.01M119.4 28.0h.01M52.4 24.6h.01M2.9 27.4h.01M73.2 29.3h.01M3.3 26.4h.01M22.4 26.5h.01M22.1 28.9h.01M50.3 19.6h.01M68.3 13.5h.01M117.7 27.3h.01M2.8 26.6h.01M6.3 29.2h.01M113.5 26.2h.01M95.9 31.9h.01M107.4 28.4h.01M100.2 18.5h.01M120.3 29.9h.01M129.3 14.5h.01M11.0 25.6h.01M9.6 24.7h.01M111.7 28.3h.01M29.2 25.9h.01M132.5 13.8h.01M14.7 34.8h.01M3.6 27.1h.01M77.7 10.8h.01M38.3 22.4h.01M73.2 25.4h.01M126.6 25.9h.01M55.3 23.5h.01M31.3 26.8h.01M47.6 27.2h.01M61.5 27.0h.01M93.4 26.0h.01M19.0 24.5h.01M44.3 29.2h.01M34.0 25.1h.01M7.4 26.5h.01M134.0 18.2h.01M90.7 26.0h.01M104.8 23.3h.01M132.8 4.2h.01M56.8 26.3h.01M21.1 33.7h.01M10.2 11.8h.01M86.9 38.1h.01M108.1 29.4h.01M99.1 26.7h.01M37.3 24.8h.01M30.8 5.6h.01M32.9 27.8h.01M80.1 35.3h.01M61.7 28.8h.01M27.2 25.5h.01M70.0 23.3h.01M80.8 14.3h.01M125.8 23.3h.01M66.0 27.1h.01M83.3 38.8h.01M82.1 16.9h.01M19.8 26.5h.01" stroke-width="1" opacity=".32"/>
</g>
<g id="R2" fill="none" stroke-linecap="round" stroke="#d9262a" filter="url(#b0)">
<path d="M29.8 31.8h.01" stroke-width="1.50" opacity="0.8"/>
<path d="M41.2 32.3h.01" stroke-width="1.38" opacity="0.7"/>
<path d="M48.1 31.8h.01" stroke-width="1.25" opacity="0.6"/>
<path d="M57.6 5.0h.01" stroke-width="1.12" opacity="0.35"/>
<path d="M41.2 9.1h.01" stroke-width="1.12" opacity="0.3"/>
<path d="M105.4 32.3h.01" stroke-width="1.12" opacity="0.4"/>
<path d="M87.7 28.2h.01" stroke-width="1.00" opacity="0.3"/>
<path d="M21.7 33.9h.01M82.8 34.0h.01M84.1 33.7h.01M84.4 32.3h.01M119.0 16.0h.01M32.2 33.4h.01M83.0 29.5h.01M68.6 31.1h.01M84.6 31.6h.01M91.1 32.9h.01M93.5 32.4h.01M101.4 28.7h.01M24.2 34.7h.01M80.3 30.0h.01M60.6 34.9h.01M111.7 32.2h.01M64.5 18.5h.01M85.2 27.3h.01M54.0 24.2h.01M123.7 27.0h.01M72.2 31.0h.01M126.7 8.4h.01M11.6 34.7h.01M53.1 30.7h.01M30.3 29.1h.01M90.1 30.9h.01M65.8 32.5h.01M12.7 33.3h.01" stroke-width="1" opacity=".32"/>
</g>
<g id="R3" fill="none" stroke-linecap="round" stroke="#d9262a" filter="url(#b0)">
<path d="M86.3 13.4h.01" stroke-width="2.00" opacity="0.5"/>
<path d="M87.1 15.6h.01" stroke-width="1.62" opacity="0.45"/>
<path d="M63.1 25.2h.01" stroke-width="1.25" opacity="0.55"/>
<path d="M71.3 23.8h.01" stroke-width="1.38" opacity="0.6"/>
<path d="M78.1 25.2h.01" stroke-width="1.38" opacity="0.65"/>
<path d="M52.2 27.9h.01" stroke-width="1.12" opacity="0.45"/>
<path d="M42.6 28.7h.01" stroke-width="1.12" opacity="0.4"/>
<path d="M84.9 23.8h.01" stroke-width="1.12" opacity="0.4"/>
<path d="M132.2 22.5h.01M30.6 27.4h.01M82.2 23.3h.01M118.0 25.3h.01M12.9 30.2h.01M31.9 29.7h.01M19.0 30.7h.01M99.5 17.4h.01M106.6 24.8h.01M112.0 21.6h.01M127.8 24.5h.01M65.1 27.3h.01M133.2 35.1h.01M72.3 13.0h.01M66.0 28.5h.01M57.9 31.1h.01M14.9 27.9h.01M14.0 32.1h.01M134.4 22.8h.01M104.7 12.8h.01M75.1 24.2h.01M61.1 4.4h.01" stroke-width="1" opacity=".32"/>
</g>
<g id="R4" fill="none" stroke-linecap="round" stroke="#d9262a" filter="url(#b0)">
<path d="M65.8 30.4h.01" stroke-width="1.50" opacity="0.85"/>
<path d="M71.3 30.4h.01" stroke-width="1.38" opacity="0.8"/>
<path d="M48.1 31.8h.01" stroke-width="1.25" opacity="0.65"/>
<path d="M79.5 30.4h.01" stroke-width="1.12" opacity="0.5"/>
<path d="M91.8 30.4h.01" stroke-width="1.25" opacity="0.6"/>
<path d="M108.1 16.8h.01" stroke-width="1.25" opacity="0.5"/>
<path d="M110.9 22.2h.01" stroke-width="1.12" opacity="0.45"/>
<path d="M5.7 15.4h.01" stroke-width="1.12" opacity="0.4"/>
<path d="M9.8 23.6h.01" stroke-width="1.12" opacity="0.35"/>
<path d="M27.6 26.3h.01" stroke-width="1.12" opacity="0.35"/>
<path d="M39.9 29.1h.01" stroke-width="1.12" opacity="0.4"/>
<path d="M104.0 29.1h.01" stroke-width="1.12" opacity="0.4"/>
<path d="M129.7 29.1h.01M32.3 32.3h.01M4.2 30.2h.01M121.1 29.6h.01M87.9 23.5h.01M54.0 31.1h.01M84.6 30.0h.01M73.3 32.7h.01M25.9 34.7h.01M108.6 11.3h.01M57.2 14.9h.01M133.9 31.4h.01M113.8 29.2h.01M74.8 29.2h.01M123.5 8.6h.01M71.5 31.2h.01M23.3 33.6h.01M13.2 35.9h.01M34.4 33.1h.01M84.6 25.3h.01M74.8 31.5h.01M114.1 33.8h.01M120.4 21.2h.01M71.5 23.4h.01M5.7 9.4h.01M66.4 30.6h.01M14.4 30.5h.01M83.4 29.9h.01" stroke-width="1" opacity=".32"/>
</g>
<g id="R5" fill="none" stroke-linecap="round" stroke="#d9262a" filter="url(#b0)">
<path d="M38.5 6.9h.01" stroke-width="1.25" opacity="0.6"/>
<path d="M80.8 8.3h.01" stroke-width="1.38" opacity="0.65"/>
<path d="M69.9 6.9h.01" stroke-width="1.12" opacity="0.5"/>
<path d="M87.7 12.4h.01" stroke-width="1.12" opacity="0.4"/>
<path d="M132.7 9.7h.01" stroke-width="1.12" opacity="0.45"/>
<path d="M38.5 22.8h.01" stroke-width="1.38" opacity="0.7"/>
<path d="M48.1 23.3h.01" stroke-width="1.25" opacity="0.6"/>
<path d="M27.6 23.3h.01" stroke-width="1.12" opacity="0.5"/>
<path d="M65.8 24.7h.01" stroke-width="1.25" opacity="0.6"/>
<path d="M56.3 28.8h.01" stroke-width="1.25" opacity="0.6"/>
<path d="M86.3 23.3h.01" stroke-width="1.25" opacity="0.55"/>
<path d="M94.5 26.0h.01" stroke-width="1.12" opacity="0.5"/>
<path d="M113.6 26.0h.01" stroke-width="1.50" opacity="0.7"/>
<path d="M102.7 30.1h.01" stroke-width="1.12" opacity="0.5"/>
<path d="M13.9 26.0h.01" stroke-width="1.12" opacity="0.45"/>
<path d="M19.4 31.5h.01" stroke-width="1.12" opacity="0.45"/>
<path d="M117.7 12.4h.01" stroke-width="1.12" opacity="0.4"/>
<path d="M11.2 16.5h.01" stroke-width="1.12" opacity="0.4"/>
<path d="M5.7 8.3h.01" stroke-width="1.12" opacity="0.4"/>
<path d="M59.0 13.7h.01" stroke-width="1.12" opacity="0.35"/>
<path d="M76.7 30.1h.01" stroke-width="1.00" opacity="0.4"/>
<path d="M33.0 34.2h.01" stroke-width="1.00" opacity="0.4"/>
<path d="M118.8 28.0h.01M43.5 14.4h.01M23.8 23.2h.01M101.9 26.2h.01M24.5 25.7h.01M53.4 29.6h.01M32.2 24.6h.01M129.6 21.5h.01M35.4 39.0h.01M85.1 24.6h.01M111.5 34.6h.01M131.9 29.2h.01M54.2 24.3h.01M85.3 21.1h.01M80.5 31.3h.01M125.8 6.6h.01M57.7 26.9h.01M36.9 28.4h.01M106.1 37.8h.01M79.4 28.2h.01M27.4 27.9h.01M98.2 26.0h.01M79.6 26.3h.01M12.0 24.3h.01M37.6 30.5h.01M124.7 29.5h.01M124.2 28.4h.01M24.2 14.6h.01M34.7 27.9h.01M18.0 26.2h.01M95.1 9.8h.01M84.1 28.2h.01M92.9 21.8h.01M64.6 25.6h.01M24.0 30.2h.01M78.8 26.9h.01M115.9 26.5h.01M48.5 23.9h.01M27.3 25.5h.01M32.9 29.5h.01M13.4 27.5h.01M124.0 24.1h.01M93.1 24.8h.01M92.7 30.1h.01M112.5 25.2h.01" stroke-width="1" opacity=".32"/>
</g>
</defs>
<g transform="translate(94.25 248.7)"><use href="#G0"/><rect x="1.8" y="36.4" width="14.2" height="1.7" fill="#b9bdb4" opacity=".8"/></g>
<g transform="translate(234.45 248.7)" clip-path="url(#pc)"><rect width="137.4" height="41.0" fill="#2d2626"/>
<use href="#R0"/>
<path d="M0 .4H137.4M136.9 0V41.0M.4 0V41.0M0 40.6H137.4" stroke="#0c0a0a" stroke-width=".9" opacity=".6" fill="none"/>
<rect x="4.4" y="36.0" width="14.5" height="1.4" fill="#dcdcdc"/>
<text x="134.9" y="39.7" font-size="9.7" text-anchor="end" fill="#fff" class="w">6/11</text>
</g>
<g transform="translate(374.8 248.7)" clip-path="url(#pc)"><use href="#G0"/>
<rect width="137.4" height="41.0" fill="#4a1c10" opacity=".06"/>
<use href="#R0" opacity=".55"/>
<rect x="4.0" y="36.1" width="14.8" height="1.4" fill="#cdd1c6"/></g>
<g transform="translate(94.25 293.0)"><use href="#G1"/><rect x="1.8" y="36.4" width="14.2" height="1.7" fill="#b9bdb4" opacity=".8"/></g>
<g transform="translate(234.45 293.0)" clip-path="url(#pc)"><rect width="137.4" height="41.0" fill="#262624"/>
<use href="#R1"/>
<path d="M0 .4H137.4M136.9 0V41.0M.4 0V41.0M0 40.6H137.4" stroke="#0c0a0a" stroke-width=".9" opacity=".6" fill="none"/>
<rect x="4.4" y="36.0" width="14.5" height="1.4" fill="#dcdcdc"/>
<text x="134.9" y="39.7" font-size="9.7" text-anchor="end" fill="#fff" class="w">6/6</text>
</g>
<g transform="translate(374.8 293.0)" clip-path="url(#pc)"><use href="#G1"/>
<rect width="137.4" height="41.0" fill="#4a1c10" opacity=".06"/>
<use href="#R1" opacity=".55"/>
<rect x="4.0" y="36.1" width="14.8" height="1.4" fill="#cdd1c6"/></g>
<g transform="translate(94.25 337.2)"><use href="#G2"/><rect x="1.8" y="36.4" width="14.2" height="1.7" fill="#b9bdb4" opacity=".8"/></g>
<g transform="translate(234.45 337.2)" clip-path="url(#pc)"><rect width="137.4" height="41.0" fill="#302526"/>
<ellipse cx="1" cy="38.5" rx="11" ry="7" fill="#d2332b" filter="url(#b2)"/>
<ellipse cx="1" cy="38.5" rx="6.5" ry="4.5" fill="#ff5a40" filter="url(#b1)"/>
<use href="#R2"/>
<path d="M0 .4H137.4M136.9 0V41.0M.4 0V41.0M0 40.6H137.4" stroke="#0c0a0a" stroke-width=".9" opacity=".6" fill="none"/>
<rect x="4.4" y="36.0" width="14.5" height="1.4" fill="#dcdcdc"/>
<text x="134.9" y="39.7" font-size="9.7" text-anchor="end" fill="#fff" class="w">16/25</text>
</g>
<g transform="translate(374.8 337.2)" clip-path="url(#pc)"><use href="#G2"/>
<rect width="137.4" height="41.0" fill="#4a1c10" opacity=".06"/>
<g opacity=".8"><ellipse cx="1" cy="38.5" rx="11" ry="7" fill="#d2332b" filter="url(#b2)"/><ellipse cx="1" cy="38.5" rx="6.5" ry="4.5" fill="#ff5a40" filter="url(#b1)"/></g>
<use href="#R2" opacity=".55"/>
<rect x="4.0" y="36.1" width="14.8" height="1.4" fill="#cdd1c6"/></g>
<g transform="translate(94.25 381.5)"><use href="#G3"/><rect x="1.8" y="36.4" width="14.2" height="1.7" fill="#b9bdb4" opacity=".8"/></g>
<g transform="translate(234.45 381.5)" clip-path="url(#pc)"><rect width="137.4" height="41.0" fill="#2b2525"/>
<rect width="60" height="41" fill="url(#rg)"/>
<ellipse cx="0" cy="39.5" rx="8" ry="3" fill="#b02a24" opacity=".8" filter="url(#b1)"/>
<ellipse cx="0" cy="40" rx="4.5" ry="3.5" fill="#d83a2e" filter="url(#b1)"/>
<use href="#R3"/>
<path d="M0 .4H137.4M136.9 0V41.0M.4 0V41.0M0 40.6H137.4" stroke="#0c0a0a" stroke-width=".9" opacity=".6" fill="none"/>
<rect x="4.4" y="36.0" width="14.5" height="1.4" fill="#dcdcdc"/>
<text x="134.9" y="39.7" font-size="9.7" text-anchor="end" fill="#fff" class="w">14/25</text>
</g>
<g transform="translate(374.8 381.5)" clip-path="url(#pc)"><use href="#G3"/>
<rect width="137.4" height="41.0" fill="#4a1c10" opacity=".06"/>
<g opacity=".8"><rect width="60" height="41" fill="url(#rg)"/><ellipse cx="0" cy="39.5" rx="8" ry="3" fill="#b02a24" opacity=".8" filter="url(#b1)"/><ellipse cx="0" cy="40" rx="4.5" ry="3.5" fill="#d83a2e" filter="url(#b1)"/></g>
<use href="#R3" opacity=".55"/>
<rect x="4.0" y="36.1" width="14.8" height="1.4" fill="#cdd1c6"/></g>
<g transform="translate(94.25 425.7)"><use href="#G4"/><rect x="1.8" y="36.4" width="14.2" height="1.7" fill="#b9bdb4" opacity=".8"/></g>
<g transform="translate(234.45 425.7)" clip-path="url(#pc)"><rect width="137.4" height="41.0" fill="#272524"/>
<ellipse cx="0" cy="38.5" rx="3" ry="4" fill="#d8352b" filter="url(#b1)"/>
<use href="#R4"/>
<path d="M0 .4H137.4M136.9 0V41.0M.4 0V41.0M0 40.6H137.4" stroke="#0c0a0a" stroke-width=".9" opacity=".6" fill="none"/>
<rect x="4.4" y="36.0" width="14.5" height="1.4" fill="#dcdcdc"/>
<text x="134.9" y="39.7" font-size="9.7" text-anchor="end" fill="#fff" class="w">3/25</text>
</g>
<g transform="translate(374.8 425.7)" clip-path="url(#pc)"><use href="#G4"/>
<rect width="137.4" height="41.0" fill="#4a1c10" opacity=".06"/>
<g opacity=".8"><ellipse cx="0" cy="38.5" rx="3" ry="4" fill="#d8352b" filter="url(#b1)"/></g>
<use href="#R4" opacity=".55"/>
<rect x="4.0" y="36.1" width="14.8" height="1.4" fill="#cdd1c6"/></g>
<g transform="translate(94.25 470.0)"><use href="#G5"/><rect x="1.8" y="36.4" width="14.2" height="1.7" fill="#b9bdb4" opacity=".8"/></g>
<g transform="translate(234.45 470.0)" clip-path="url(#pc)"><rect width="137.4" height="41.0" fill="#2b2424"/>
<rect width="60" height="41" fill="url(#rg)"/>
<ellipse cx="4" cy="37.5" rx="26" ry="3.6" fill="#b82c24" opacity=".9" filter="url(#b2)"/>
<ellipse cx="2" cy="37.5" rx="11" ry="3" fill="#f0503a" filter="url(#b1)"/>
<use href="#R5"/>
<path d="M0 .4H137.4M136.9 0V41.0M.4 0V41.0M0 40.6H137.4" stroke="#0c0a0a" stroke-width=".9" opacity=".6" fill="none"/>
<rect x="4.4" y="36.0" width="14.5" height="1.4" fill="#dcdcdc"/>
<text x="134.9" y="39.7" font-size="9.7" text-anchor="end" fill="#fff" class="w">8/25</text>
</g>
<g transform="translate(374.8 470.0)" clip-path="url(#pc)"><use href="#G5"/>
<rect width="137.4" height="41.0" fill="#4a1c10" opacity=".06"/>
<g opacity=".8"><rect width="60" height="41" fill="url(#rg)"/><ellipse cx="4" cy="37.5" rx="26" ry="3.6" fill="#b82c24" opacity=".9" filter="url(#b2)"/><ellipse cx="2" cy="37.5" rx="11" ry="3" fill="#f0503a" filter="url(#b1)"/></g>
<use href="#R5" opacity=".55"/>
<rect x="4.0" y="36.1" width="14.8" height="1.4" fill="#cdd1c6"/></g>
<path d="M0 .5H520M519.5 0V519M0 518H520M.8 0V519" stroke="#333" stroke-width="1" fill="none"/>
<rect x="0" y="0" width="1.7" height="519" fill="#4a4a4a"/><rect x="0" y="517.2" width="520" height="1.8" fill="#4a4a4a"/><rect x="0" y="0" width="520" height="1.1" fill="#111"/><rect x="518.9" y="0" width="1.1" height="519" fill="#111"/>
</svg></body></html>
